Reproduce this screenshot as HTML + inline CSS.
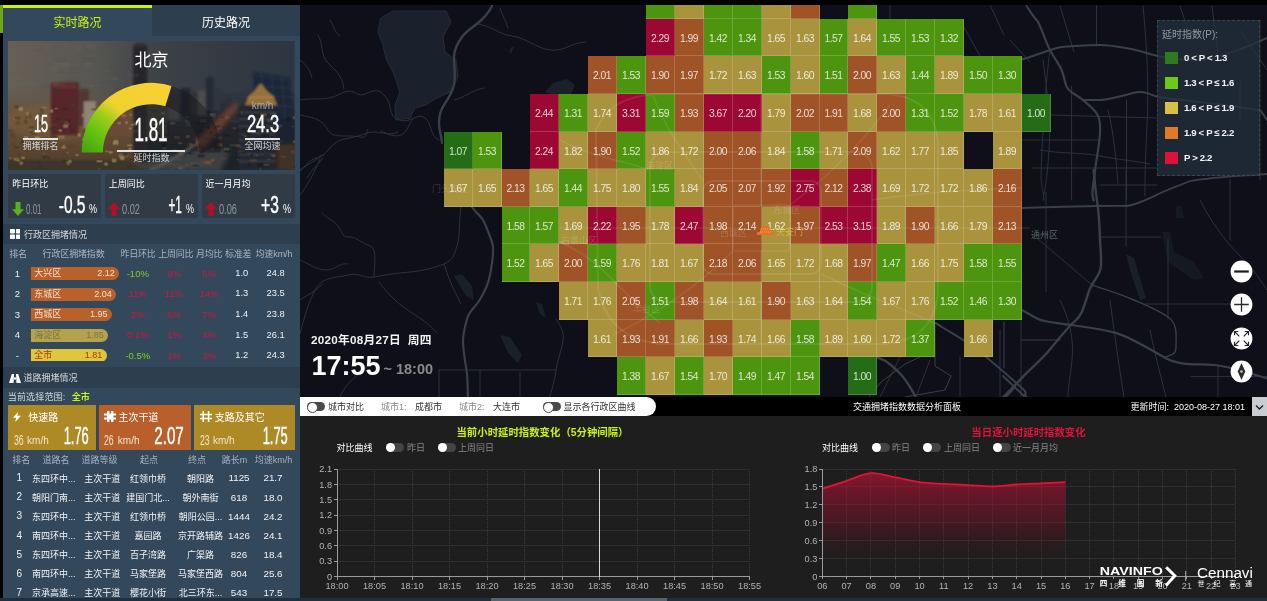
<!DOCTYPE html>
<html lang="zh-CN">
<head>
<meta charset="utf-8">
<title>交通拥堵指数数据分析面板</title>
<style>
*{box-sizing:border-box;margin:0;padding:0}
html,body{width:1267px;height:601px;overflow:hidden;background:#000}
body{position:relative;font-family:"Liberation Sans","Noto Sans CJK SC",sans-serif;font-size:10px;color:#fff}
.a{position:absolute}
.t{position:absolute;white-space:nowrap;line-height:1}
.c{transform:translateX(-50%)}
.nar{display:inline-block;transform-origin:0 50%}
#left{left:3px;top:5px;width:297px;height:593px;background:#34485c;overflow:hidden}
#map{left:300px;top:5px;width:967px;height:392px;background:#0e0f18;overflow:hidden}
#bot{left:300px;top:397px;width:967px;height:201px;background:#1e1e1e;overflow:hidden}
.cell{position:absolute;width:28.9px;height:37.6px;border-right:1px solid rgba(255,255,255,.18);border-bottom:1px solid rgba(255,255,255,.18);color:rgba(255,255,255,.8);font-size:10.3px;text-align:center;padding-top:1px;letter-spacing:-.45px}
.g0{background:rgba(38,112,22,.96)}
.g1{background:rgba(80,155,14,.96)}
.g2{background:rgba(176,154,62,.96)}
.g3{background:rgba(166,86,38,.96)}
.g4{background:rgba(162,8,52,.96)}
.tog{position:absolute;width:18px;height:9px;border-radius:5px;background:#4a4a4a}
.tog:after{content:"";position:absolute;left:0;top:0;width:9px;height:9px;border-radius:50%;background:#fff}
.tb:after{border:1px solid #4a4a4a}
.row{position:absolute;left:0;width:297px;height:20px;font-size:10px}
</style>
</head>
<body>
<div class="a" style="left:0;top:5px;width:3px;height:28px;background:#6ea713"></div>
<div id="left" class="a">
<div class="a" style="left:0.0px;top:0.0px;width:149.0px;height:3.0px;background:#c6f312;"></div>
<div class="a" style="left:149.0px;top:0.0px;width:148.0px;height:30.5px;background:#2d3e4f;"></div>
<div class="t c" style="left:74.5px;top:11.5px;font-size:12px;color:#c6f312;">实时路况</div>
<div class="t c" style="left:223.0px;top:11.5px;font-size:12px;color:#fff;">历史路况</div>
<svg class="a" style="left:5.3px;top:35.7px" width="286.5" height="129.8" viewBox="8.3 40.7 286.5 129.8">
<defs>
<linearGradient id="sky" x1="0" y1="0" x2="1" y2="0"><stop offset="0" stop-color="#665f56"/><stop offset=".3" stop-color="#575652"/><stop offset=".5" stop-color="#3f4347"/><stop offset=".75" stop-color="#333a43"/><stop offset="1" stop-color="#2c3641"/></linearGradient>
<linearGradient id="gl" x1="0" y1="0" x2="0" y2="1"><stop offset="0" stop-color="#665036" stop-opacity="0"/><stop offset=".3" stop-color="#695034" stop-opacity=".9"/><stop offset=".75" stop-color="#57432f"/><stop offset="1" stop-color="#383029"/></linearGradient>
<linearGradient id="gr" x1="0" y1="0" x2="0" y2="1"><stop offset="0" stop-color="#23272d" stop-opacity="0"/><stop offset=".3" stop-color="#22262b" stop-opacity=".95"/><stop offset="1" stop-color="#1c1f23"/></linearGradient>
<linearGradient id="gauge" x1="0" y1="1" x2="1" y2="0"><stop offset="0" stop-color="#459f10"/><stop offset=".2" stop-color="#60c010"/><stop offset=".38" stop-color="#9ccc18"/><stop offset=".52" stop-color="#efd22e"/><stop offset="1" stop-color="#fbcf36"/></linearGradient>
<filter id="bl" x="-5%" y="-5%" width="110%" height="110%"><feGaussianBlur stdDeviation=".8"/></filter>
<filter id="bl3" x="-2%" y="-2%" width="104%" height="104%"><feGaussianBlur stdDeviation=".55"/></filter>
<filter id="bl2" x="-10%" y="-10%" width="120%" height="120%"><feGaussianBlur stdDeviation="2.5"/></filter>
<clipPath id="pc"><rect x="8.3" y="40.7" width="286.5" height="129.8"/></clipPath>
</defs>
<g clip-path="url(#pc)">
<rect x="8" y="40" width="288" height="131" fill="url(#sky)"/>
<g filter="url(#bl2)">
<rect x="0" y="88" width="150" height="90" fill="url(#gl)"/>
<rect x="140" y="92" width="160" height="84" fill="url(#gr)"/>
<ellipse cx="55" cy="122" rx="50" ry="18" fill="#86663c" opacity=".35"/>
<path d="M110 172c30-10 60-18 100-22l20 0-10 22z" fill="#4a4b4c" opacity=".75"/>
<path d="M194 143c14-13 26-26 42-40l4 2c-12 15-24 28-36 42z" fill="#7a4430" opacity=".85"/>
<rect x="277" y="125" width="20" height="46" fill="#4a3528" opacity=".8"/>
</g>
<g filter="url(#bl)">
<rect x="51" y="82" width="28" height="53" fill="#55272a"/>
<rect x="53" y="84" width="24" height="4" fill="#63302f"/>
<rect x="79" y="89" width="10" height="37" fill="#523430"/>
<rect x="84" y="101" width="12" height="27" fill="#8e8576"/>
<rect x="133.5" y="45" width="14.2" height="110" fill="#25282c"/>
<rect x="135.5" y="43" width="10" height="4" fill="#2b2e32"/>
<rect x="110" y="112" width="22" height="24" fill="#6a4a38"/>
<rect x="147" y="100" width="20" height="40" fill="#33302f"/>
<rect x="168" y="98" width="12" height="22" fill="#3a3a3c"/>
<rect x="181.5" y="87.5" width="9" height="25" fill="#24282e"/>
<rect x="190.5" y="92" width="7" height="22" fill="#2e3238"/>
<rect x="198" y="90" width="10" height="25" fill="#4a4c4e"/>
<rect x="206" y="77" width="8" height="36" fill="#262c36"/>
<rect x="214" y="87.5" width="7" height="23" fill="#2f3640"/>
<rect x="226" y="95" width="4" height="10" fill="#2a3038"/>
<path d="M253.3 71.7l37 5.6 3.4 46-38 3z" fill="#1d2838"/>
<path d="M255 75l34 5M254 85l37 3M254 95l38 2M255 105l38 1M262 73l4 50M272 74l4 50M282 76l4 48" stroke="#2a3a52" stroke-width=".8" fill="none"/>
<path d="M245.4 105l3-9 6-5 6.6-8 6.6 8 6 5 4 9z" fill="#96703a"/>
<path d="M249 97h25" stroke="#b88c48" stroke-width="1"/>
<rect x="238.7" y="105" width="37" height="66" rx="3" fill="#24282e"/>
<path d="M239 112h37M239 119h37M239 126h37M239 133h37M239 140h37M239 147h37M239 154h37M239 161h37" stroke="#454b53" stroke-width="1.1"/>
<rect x="276" y="118" width="20" height="26" fill="#1a2230"/>
<path d="M150 170c20-8 34-16 50-30" stroke="#55585b" stroke-width="2.5" fill="none"/>
<path d="M170 172c16-8 30-10 44-8" stroke="#45484b" stroke-width="2.5" fill="none"/>
<path d="M8 160h120l20 11H8z" fill="#3a342c"/>
</g>
<g opacity=".55" filter="url(#bl3)"><rect x="49.1" y="113.7" width="4.4" height="1.2" fill="#4a3828"/><rect x="54.4" y="107.7" width="3.8" height="1.1" fill="#b89a6a"/><rect x="61.1" y="119.4" width="4.0" height="1.2" fill="#4a3828"/><rect x="128.3" y="144.4" width="4.1" height="1.2" fill="#b89a6a"/><rect x="14.3" y="118.1" width="4.0" height="1.4" fill="#b89a6a"/><rect x="26.3" y="111.5" width="2.9" height="3.4" fill="#9a8460"/><rect x="21.1" y="140.6" width="2.3" height="1.3" fill="#4a3828"/><rect x="79.7" y="143.6" width="3.7" height="2.6" fill="#6e5236"/><rect x="67.1" y="163.1" width="3.1" height="1.7" fill="#9a8460"/><rect x="96.8" y="119.6" width="4.1" height="2.6" fill="#6e5236"/><rect x="100.6" y="122.4" width="5.9" height="1.4" fill="#b89a6a"/><rect x="29.0" y="125.9" width="5.7" height="2.3" fill="#4a3828"/><rect x="105.1" y="140.7" width="5.4" height="1.9" fill="#6e5236"/><rect x="83.5" y="141.1" width="3.6" height="3.5" fill="#2e241c"/><rect x="68.2" y="146.5" width="1.8" height="3.1" fill="#51402e"/><rect x="44.1" y="128.7" width="4.5" height="1.1" fill="#51402e"/><rect x="53.1" y="143.1" width="3.7" height="1.7" fill="#2e241c"/><rect x="24.4" y="119.8" width="3.3" height="3.6" fill="#4a3828"/><rect x="29.1" y="129.7" width="2.8" height="1.4" fill="#b89a6a"/><rect x="117.7" y="121.8" width="3.4" height="2.1" fill="#b89a6a"/><rect x="129.6" y="113.7" width="2.3" height="1.7" fill="#c0a878"/><rect x="9.5" y="157.2" width="2.3" height="1.8" fill="#9a8460"/><rect x="61.2" y="127.6" width="4.0" height="3.9" fill="#3a2c22"/><rect x="66.0" y="159.7" width="5.8" height="3.0" fill="#b89a6a"/><rect x="58.6" y="129.2" width="3.7" height="2.2" fill="#c0a878"/><rect x="16.6" y="117.4" width="2.2" height="2.0" fill="#3a2c22"/><rect x="21.0" y="140.3" width="3.9" height="3.8" fill="#3a2c22"/><rect x="16.9" y="117.3" width="3.2" height="2.9" fill="#6e5236"/><rect x="84.5" y="134.3" width="2.0" height="2.5" fill="#51402e"/><rect x="69.0" y="124.0" width="2.1" height="3.2" fill="#2e241c"/><rect x="68.8" y="148.3" width="3.8" height="1.6" fill="#6e5236"/><rect x="26.6" y="138.8" width="1.6" height="2.6" fill="#4a3828"/><rect x="96.4" y="120.7" width="3.2" height="1.5" fill="#c0a878"/><rect x="75.6" y="153.9" width="3.0" height="1.7" fill="#c0a878"/><rect x="110.4" y="156.4" width="4.8" height="1.7" fill="#51402e"/><rect x="53.2" y="105.9" width="1.6" height="1.8" fill="#2e241c"/><rect x="32.6" y="142.7" width="3.0" height="3.4" fill="#6e5236"/><rect x="129.3" y="127.3" width="2.5" height="1.7" fill="#c0a878"/><rect x="50.9" y="134.9" width="5.9" height="2.8" fill="#3a2c22"/><rect x="68.9" y="145.8" width="5.1" height="1.3" fill="#4a3828"/><rect x="123.5" y="154.1" width="4.9" height="2.4" fill="#9a8460"/><rect x="63.1" y="144.7" width="1.9" height="3.8" fill="#b89a6a"/><rect x="66.8" y="151.6" width="1.9" height="1.5" fill="#9a8460"/><rect x="11.5" y="141.8" width="3.6" height="3.0" fill="#51402e"/><rect x="91.5" y="126.4" width="4.0" height="1.4" fill="#3a2c22"/><rect x="109.5" y="150.5" width="2.0" height="3.2" fill="#9a8460"/><rect x="63.1" y="159.8" width="5.2" height="1.6" fill="#2e241c"/><rect x="35.0" y="136.1" width="4.9" height="2.0" fill="#b89a6a"/><rect x="113.9" y="107.9" width="4.8" height="3.7" fill="#b89a6a"/><rect x="113.0" y="160.2" width="2.1" height="1.5" fill="#3a2c22"/><rect x="118.8" y="153.7" width="4.2" height="3.3" fill="#9a8460"/><rect x="29.9" y="134.3" width="4.8" height="2.7" fill="#6e5236"/><rect x="94.7" y="138.0" width="3.7" height="3.3" fill="#3a2c22"/><rect x="39.6" y="121.7" width="5.0" height="2.5" fill="#3a2c22"/><rect x="104.5" y="162.4" width="3.5" height="2.8" fill="#c0a878"/><rect x="96.0" y="133.0" width="3.9" height="2.4" fill="#c0a878"/><rect x="96.8" y="160.1" width="5.7" height="1.8" fill="#c0a878"/><rect x="114.7" y="112.8" width="2.0" height="2.3" fill="#4a3828"/><rect x="93.2" y="131.4" width="2.5" height="1.9" fill="#4a3828"/><rect x="121.9" y="113.9" width="4.7" height="3.0" fill="#9a8460"/><rect x="40.1" y="112.8" width="3.6" height="3.2" fill="#4a3828"/><rect x="58.6" y="135.2" width="6.0" height="3.5" fill="#9a8460"/><rect x="97.7" y="167.6" width="3.3" height="2.3" fill="#6e5236"/><rect x="48.5" y="150.2" width="1.6" height="2.7" fill="#51402e"/><rect x="97.3" y="128.6" width="3.8" height="1.9" fill="#4a3828"/><rect x="22.3" y="162.8" width="2.5" height="3.6" fill="#4a3828"/><rect x="41.7" y="106.5" width="5.0" height="1.8" fill="#9a8460"/><rect x="112.1" y="158.4" width="4.5" height="3.8" fill="#b89a6a"/><rect x="27.0" y="162.8" width="4.1" height="3.1" fill="#4a3828"/><rect x="43.4" y="155.2" width="2.3" height="3.7" fill="#2e241c"/><rect x="127.2" y="144.6" width="5.1" height="1.3" fill="#c0a878"/><rect x="16.5" y="159.2" width="3.5" height="2.0" fill="#b89a6a"/><rect x="125.7" y="121.1" width="2.1" height="2.6" fill="#c0a878"/><rect x="127.1" y="166.0" width="2.7" height="1.5" fill="#2e241c"/><rect x="87.8" y="138.0" width="2.4" height="2.3" fill="#9a8460"/><rect x="42.4" y="155.4" width="6.0" height="1.1" fill="#3a2c22"/><rect x="101.1" y="139.3" width="2.4" height="2.4" fill="#51402e"/><rect x="21.5" y="156.4" width="3.4" height="2.5" fill="#b89a6a"/><rect x="131.2" y="123.7" width="2.5" height="1.7" fill="#c0a878"/><rect x="113.7" y="149.2" width="4.4" height="2.2" fill="#6e5236"/><rect x="132.7" y="157.6" width="1.6" height="2.9" fill="#2e241c"/><rect x="62.7" y="107.5" width="4.5" height="2.1" fill="#2e241c"/><rect x="84.0" y="148.3" width="1.7" height="1.6" fill="#2e241c"/><rect x="64.6" y="120.8" width="5.8" height="3.9" fill="#6e5236"/><rect x="39.0" y="165.8" width="2.9" height="2.1" fill="#3a2c22"/><rect x="50.6" y="109.4" width="2.8" height="3.0" fill="#c0a878"/><rect x="72.1" y="104.3" width="2.7" height="1.3" fill="#b89a6a"/><rect x="82.5" y="129.2" width="2.8" height="2.9" fill="#4a3828"/><rect x="82.4" y="137.9" width="4.9" height="3.0" fill="#b89a6a"/><rect x="105.1" y="150.1" width="3.7" height="1.9" fill="#9a8460"/><rect x="13.6" y="157.5" width="5.5" height="2.9" fill="#9a8460"/><rect x="123.6" y="152.2" width="4.1" height="3.4" fill="#3a2c22"/><rect x="113.0" y="141.4" width="5.5" height="3.0" fill="#c0a878"/><rect x="18.8" y="106.7" width="4.4" height="3.9" fill="#b89a6a"/><rect x="114.1" y="139.7" width="4.3" height="2.9" fill="#c0a878"/><rect x="70.1" y="104.2" width="5.1" height="3.2" fill="#4a3828"/><rect x="91.7" y="108.2" width="4.8" height="1.8" fill="#4a3828"/><rect x="115.5" y="119.0" width="4.9" height="1.7" fill="#51402e"/><rect x="70.7" y="128.5" width="3.7" height="3.1" fill="#3a2c22"/><rect x="86.4" y="145.1" width="1.8" height="1.4" fill="#2e241c"/><rect x="90.7" y="148.3" width="4.3" height="1.4" fill="#51402e"/><rect x="15.7" y="121.2" width="4.5" height="3.1" fill="#51402e"/><rect x="44.9" y="137.1" width="3.6" height="2.4" fill="#4a3828"/><rect x="134.1" y="139.1" width="2.9" height="1.3" fill="#51402e"/><rect x="10.2" y="133.4" width="5.2" height="3.9" fill="#51402e"/><rect x="134.2" y="128.8" width="5.6" height="3.8" fill="#4a3828"/><rect x="81.8" y="113.1" width="3.9" height="3.9" fill="#9a8460"/><rect x="84.6" y="144.4" width="2.8" height="1.3" fill="#6e5236"/><rect x="37.4" y="161.5" width="3.7" height="1.1" fill="#3a2c22"/><rect x="128.6" y="147.6" width="3.3" height="3.2" fill="#b89a6a"/><rect x="51.7" y="124.2" width="5.3" height="1.0" fill="#6e5236"/><rect x="114.6" y="111.7" width="5.7" height="3.1" fill="#2e241c"/><rect x="40.2" y="108.2" width="3.3" height="3.6" fill="#4a3828"/><rect x="53.8" y="131.4" width="2.7" height="1.1" fill="#4a3828"/><rect x="14.6" y="146.4" width="4.4" height="1.4" fill="#2e241c"/><rect x="63.4" y="124.2" width="5.0" height="3.4" fill="#b89a6a"/><rect x="120.3" y="156.0" width="4.3" height="3.7" fill="#c0a878"/><rect x="99.4" y="107.2" width="4.8" height="2.4" fill="#9a8460"/><rect x="89.9" y="122.3" width="1.7" height="3.8" fill="#9a8460"/><rect x="29.7" y="130.6" width="2.8" height="1.8" fill="#2e241c"/><rect x="59.6" y="119.3" width="3.7" height="3.0" fill="#4a3828"/><rect x="29.3" y="114.3" width="2.4" height="3.7" fill="#51402e"/><rect x="77.9" y="133.0" width="3.0" height="3.3" fill="#b89a6a"/><rect x="25.7" y="116.3" width="1.9" height="2.0" fill="#4a3828"/><rect x="48.5" y="127.6" width="5.1" height="1.6" fill="#3a2c22"/><rect x="103.2" y="130.4" width="3.4" height="2.6" fill="#b89a6a"/><rect x="42.3" y="152.1" width="3.7" height="2.7" fill="#6e5236"/><rect x="24.0" y="136.2" width="4.3" height="3.6" fill="#c0a878"/><rect x="19.8" y="161.4" width="3.2" height="2.9" fill="#b89a6a"/><rect x="129.2" y="158.3" width="5.4" height="1.1" fill="#3a2c22"/><rect x="62.0" y="152.9" width="5.1" height="3.9" fill="#51402e"/><rect x="8.0" y="129.1" width="5.7" height="3.5" fill="#51402e"/><rect x="131.5" y="119.9" width="2.0" height="1.5" fill="#4a3828"/><rect x="127.6" y="150.2" width="4.4" height="3.3" fill="#51402e"/><rect x="18.8" y="153.7" width="1.5" height="1.4" fill="#3a2c22"/><rect x="90.0" y="123.4" width="2.1" height="1.8" fill="#b89a6a"/><rect x="96.7" y="111.2" width="1.8" height="2.6" fill="#c0a878"/><rect x="57.3" y="118.3" width="4.2" height="1.0" fill="#2e241c"/><rect x="134.5" y="121.8" width="2.9" height="3.5" fill="#c0a878"/><rect x="68.4" y="119.0" width="2.6" height="3.9" fill="#2e241c"/><rect x="15.0" y="116.4" width="5.5" height="2.9" fill="#4a3828"/><rect x="40.7" y="146.7" width="5.7" height="1.7" fill="#3a2c22"/><rect x="96.4" y="150.0" width="3.1" height="2.2" fill="#3a2c22"/><rect x="109.2" y="151.3" width="3.8" height="1.6" fill="#c0a878"/><rect x="47.6" y="156.5" width="2.5" height="1.7" fill="#2e241c"/><rect x="21.8" y="143.9" width="4.2" height="3.7" fill="#51402e"/><rect x="61.0" y="146.6" width="5.8" height="1.4" fill="#b89a6a"/><rect x="14.9" y="105.5" width="4.2" height="2.2" fill="#3a2c22"/><rect x="31.4" y="132.8" width="4.7" height="1.9" fill="#4a3828"/><rect x="134.7" y="163.6" width="3.0" height="1.6" fill="#51402e"/><rect x="154.6" y="149.2" width="3.6" height="1.9" fill="#101216"/><rect x="213.7" y="116.4" width="1.9" height="1.2" fill="#5a5c5e"/><rect x="287.6" y="117.3" width="6.8" height="1.5" fill="#101216"/><rect x="260.7" y="128.2" width="5.9" height="1.2" fill="#8a5a34"/><rect x="178.2" y="142.0" width="4.0" height="1.8" fill="#8a5a34"/><rect x="154.4" y="134.2" width="6.0" height="2.9" fill="#15181c"/><rect x="204.1" y="137.4" width="5.9" height="1.2" fill="#34383d"/><rect x="257.6" y="163.0" width="3.4" height="1.7" fill="#15181c"/><rect x="187.8" y="152.3" width="3.2" height="1.7" fill="#15181c"/><rect x="253.9" y="145.1" width="5.9" height="3.4" fill="#1b1f24"/><rect x="153.5" y="123.8" width="4.1" height="3.4" fill="#5a5c5e"/><rect x="263.7" y="163.9" width="6.0" height="1.3" fill="#8a5a34"/><rect x="176.3" y="157.4" width="5.6" height="3.1" fill="#4a4d50"/><rect x="237.4" y="129.3" width="3.3" height="1.9" fill="#1b1f24"/><rect x="223.7" y="133.1" width="2.4" height="2.0" fill="#15181c"/><rect x="219.4" y="142.1" width="2.4" height="2.1" fill="#1b1f24"/><rect x="292.2" y="125.6" width="2.0" height="1.2" fill="#8a5a34"/><rect x="292.3" y="167.4" width="2.5" height="1.3" fill="#8a5a34"/><rect x="239.3" y="149.8" width="5.6" height="3.1" fill="#1b1f24"/><rect x="262.3" y="127.3" width="3.0" height="1.7" fill="#6a4a30"/><rect x="256.3" y="121.8" width="2.9" height="1.6" fill="#4a4d50"/><rect x="190.5" y="163.5" width="2.5" height="1.2" fill="#6a4a30"/><rect x="292.9" y="139.9" width="2.8" height="3.0" fill="#8a5a34"/><rect x="292.7" y="116.0" width="4.1" height="3.0" fill="#8a5a34"/><rect x="281.7" y="112.4" width="3.1" height="1.3" fill="#34383d"/><rect x="236.5" y="158.8" width="2.6" height="1.2" fill="#4a4d50"/><rect x="214.7" y="125.3" width="5.8" height="3.4" fill="#1b1f24"/><rect x="241.8" y="151.9" width="3.4" height="1.1" fill="#101216"/><rect x="170.4" y="122.0" width="2.9" height="2.5" fill="#34383d"/><rect x="267.3" y="158.3" width="3.7" height="1.9" fill="#6a4a30"/><rect x="161.2" y="111.9" width="4.2" height="2.2" fill="#5a5c5e"/><rect x="164.6" y="133.3" width="4.5" height="2.6" fill="#1b1f24"/><rect x="244.0" y="133.5" width="3.0" height="3.5" fill="#6a4a30"/><rect x="210.2" y="113.0" width="5.6" height="3.2" fill="#5a5c5e"/><rect x="210.0" y="161.0" width="7.0" height="1.9" fill="#34383d"/><rect x="206.3" y="133.9" width="6.7" height="2.1" fill="#4a4d50"/><rect x="211.0" y="158.4" width="3.7" height="3.2" fill="#8a5a34"/><rect x="261.3" y="117.7" width="1.8" height="1.4" fill="#5a5c5e"/><rect x="162.8" y="146.7" width="3.5" height="2.3" fill="#4a4d50"/><rect x="200.1" y="119.5" width="2.4" height="1.2" fill="#5a5c5e"/><rect x="220.6" y="157.5" width="6.8" height="1.5" fill="#4a4d50"/><rect x="270.6" y="112.6" width="6.5" height="1.8" fill="#5a5c5e"/><rect x="162.4" y="152.0" width="5.3" height="3.2" fill="#34383d"/><rect x="239.4" y="146.3" width="2.6" height="2.2" fill="#34383d"/><rect x="156.0" y="165.4" width="2.4" height="1.9" fill="#4a4d50"/><rect x="185.6" y="152.8" width="6.4" height="1.1" fill="#15181c"/><rect x="246.2" y="129.1" width="3.6" height="2.1" fill="#6a4a30"/><rect x="243.5" y="128.2" width="2.9" height="2.0" fill="#101216"/><rect x="214.3" y="135.9" width="1.6" height="2.5" fill="#8a5a34"/><rect x="217.0" y="136.4" width="4.9" height="3.0" fill="#4a4d50"/><rect x="266.7" y="133.6" width="1.9" height="1.9" fill="#101216"/><rect x="163.2" y="136.1" width="4.3" height="1.1" fill="#4a4d50"/><rect x="161.8" y="153.3" width="5.8" height="2.3" fill="#15181c"/><rect x="258.3" y="162.8" width="5.1" height="3.0" fill="#15181c"/><rect x="273.4" y="168.8" width="5.5" height="3.0" fill="#34383d"/><rect x="169.0" y="162.3" width="3.1" height="3.0" fill="#4a4d50"/><rect x="248.8" y="152.5" width="2.7" height="3.1" fill="#6a4a30"/><rect x="172.9" y="162.9" width="3.0" height="3.0" fill="#4a4d50"/><rect x="186.6" y="166.9" width="4.1" height="2.5" fill="#34383d"/><rect x="195.9" y="112.2" width="2.5" height="1.4" fill="#6a4a30"/><rect x="247.9" y="162.8" width="2.4" height="3.0" fill="#1b1f24"/><rect x="260.6" y="112.9" width="6.2" height="3.4" fill="#8a5a34"/><rect x="229.9" y="144.2" width="6.4" height="1.3" fill="#5a5c5e"/><rect x="256.3" y="131.9" width="3.6" height="1.9" fill="#4a4d50"/><rect x="201.9" y="155.1" width="3.9" height="1.4" fill="#15181c"/><rect x="192.7" y="140.5" width="3.2" height="3.4" fill="#101216"/><rect x="255.6" y="154.1" width="2.7" height="1.7" fill="#5a5c5e"/><rect x="210.1" y="131.5" width="1.8" height="2.2" fill="#15181c"/><rect x="153.2" y="110.2" width="3.5" height="1.3" fill="#101216"/><rect x="226.9" y="134.4" width="3.2" height="1.3" fill="#101216"/><rect x="239.8" y="138.0" width="2.2" height="3.3" fill="#34383d"/><rect x="251.9" y="136.6" width="1.9" height="1.4" fill="#6a4a30"/><rect x="207.9" y="125.6" width="1.6" height="2.6" fill="#101216"/><rect x="235.6" y="144.1" width="4.8" height="2.3" fill="#8a5a34"/><rect x="185.8" y="163.3" width="1.7" height="2.3" fill="#5a5c5e"/><rect x="176.7" y="119.4" width="6.5" height="1.3" fill="#34383d"/><rect x="170.5" y="121.8" width="4.8" height="2.3" fill="#5a5c5e"/><rect x="267.1" y="120.3" width="3.2" height="1.8" fill="#15181c"/><rect x="293.1" y="152.7" width="4.1" height="2.3" fill="#5a5c5e"/><rect x="271.6" y="154.0" width="4.1" height="2.9" fill="#8a5a34"/><rect x="175.3" y="168.8" width="2.9" height="2.6" fill="#1b1f24"/><rect x="198.3" y="154.2" width="5.3" height="3.1" fill="#15181c"/><rect x="188.3" y="142.7" width="3.9" height="3.0" fill="#6a4a30"/><rect x="192.6" y="164.8" width="6.4" height="1.2" fill="#15181c"/><rect x="174.4" y="163.4" width="6.1" height="1.5" fill="#4a4d50"/><rect x="257.4" y="129.3" width="6.3" height="1.8" fill="#34383d"/><rect x="204.6" y="160.3" width="6.6" height="3.5" fill="#8a5a34"/><rect x="218.0" y="141.3" width="1.5" height="1.1" fill="#34383d"/><rect x="232.1" y="128.2" width="2.7" height="2.6" fill="#1b1f24"/><rect x="231.4" y="120.1" width="1.7" height="1.3" fill="#4a4d50"/><rect x="199.7" y="118.4" width="1.7" height="1.1" fill="#15181c"/><rect x="250.4" y="153.5" width="1.9" height="2.5" fill="#101216"/><rect x="178.7" y="166.3" width="4.4" height="2.7" fill="#5a5c5e"/><rect x="165.4" y="122.1" width="2.1" height="1.1" fill="#1b1f24"/><rect x="268.8" y="147.3" width="3.1" height="1.2" fill="#1b1f24"/><rect x="264.0" y="148.1" width="3.1" height="1.8" fill="#6a4a30"/><rect x="153.0" y="125.1" width="3.1" height="2.8" fill="#101216"/><rect x="281.1" y="155.4" width="4.8" height="2.2" fill="#6a4a30"/><rect x="239.0" y="111.8" width="3.8" height="2.1" fill="#1b1f24"/><rect x="199.9" y="151.6" width="4.5" height="1.5" fill="#1b1f24"/><rect x="232.7" y="126.9" width="3.9" height="2.3" fill="#6a4a30"/><rect x="259.8" y="167.7" width="1.5" height="2.2" fill="#8a5a34"/><rect x="250.1" y="158.7" width="6.8" height="2.5" fill="#6a4a30"/><rect x="233.2" y="119.4" width="6.0" height="3.3" fill="#34383d"/><rect x="221.8" y="116.5" width="5.0" height="1.2" fill="#1b1f24"/><rect x="240.4" y="131.0" width="3.7" height="2.0" fill="#1b1f24"/><rect x="210.8" y="148.1" width="3.5" height="1.8" fill="#5a5c5e"/><rect x="279.8" y="139.6" width="3.6" height="3.2" fill="#34383d"/><rect x="285.9" y="117.5" width="4.8" height="2.7" fill="#15181c"/><rect x="200.2" y="129.3" width="2.4" height="3.1" fill="#101216"/><rect x="174.4" y="135.9" width="5.8" height="2.4" fill="#4a4d50"/><rect x="198.1" y="147.9" width="5.3" height="2.3" fill="#6a4a30"/><rect x="193.4" y="151.5" width="6.1" height="1.4" fill="#4a4d50"/><rect x="290.4" y="152.7" width="4.8" height="1.9" fill="#34383d"/><rect x="197.2" y="121.2" width="6.9" height="2.8" fill="#1b1f24"/><rect x="173.7" y="148.8" width="2.6" height="1.4" fill="#4a4d50"/><rect x="264.5" y="153.3" width="3.9" height="1.5" fill="#1b1f24"/><rect x="190.4" y="162.2" width="4.1" height="1.0" fill="#5a5c5e"/><rect x="249.9" y="139.5" width="5.0" height="2.2" fill="#4a4d50"/><rect x="187.0" y="153.6" width="1.5" height="1.6" fill="#5a5c5e"/><rect x="251.0" y="144.7" width="5.1" height="3.1" fill="#34383d"/><rect x="247.9" y="147.9" width="4.0" height="1.8" fill="#1b1f24"/><rect x="278.8" y="124.3" width="3.7" height="2.8" fill="#4a4d50"/><rect x="186.0" y="135.0" width="4.0" height="2.6" fill="#5a5c5e"/><rect x="224.6" y="149.0" width="6.3" height="3.2" fill="#101216"/><rect x="262.1" y="132.9" width="4.2" height="3.4" fill="#15181c"/><rect x="186.2" y="122.9" width="5.4" height="3.4" fill="#34383d"/><rect x="224.8" y="116.0" width="4.7" height="2.4" fill="#8a5a34"/><rect x="223.8" y="147.7" width="6.1" height="2.3" fill="#5a5c5e"/><rect x="256.9" y="137.0" width="6.9" height="1.5" fill="#1b1f24"/><rect x="255.0" y="146.2" width="5.0" height="1.6" fill="#5a5c5e"/><rect x="207.6" y="110.8" width="3.8" height="2.1" fill="#101216"/><rect x="233.5" y="116.4" width="3.2" height="2.0" fill="#34383d"/><rect x="293.2" y="166.7" width="4.0" height="1.4" fill="#1b1f24"/><rect x="266.6" y="147.4" width="4.1" height="2.4" fill="#34383d"/><rect x="267.3" y="118.6" width="5.2" height="3.1" fill="#5a5c5e"/><rect x="217.4" y="127.4" width="4.5" height="1.3" fill="#8a5a34"/><rect x="201.1" y="160.2" width="3.0" height="1.9" fill="#6a4a30"/><rect x="291.5" y="150.1" width="4.1" height="3.0" fill="#6a4a30"/><rect x="201.5" y="148.6" width="3.3" height="2.2" fill="#1b1f24"/><rect x="244.9" y="131.4" width="6.6" height="3.1" fill="#15181c"/><rect x="162.3" y="143.3" width="3.3" height="3.4" fill="#101216"/><rect x="241.2" y="110.9" width="1.6" height="3.4" fill="#6a4a30"/><rect x="186.0" y="116.0" width="2.3" height="1.6" fill="#8a5a34"/><rect x="199.9" y="119.0" width="6.5" height="3.0" fill="#4a4d50"/><rect x="237.8" y="150.6" width="6.9" height="1.2" fill="#6a4a30"/><rect x="178.4" y="150.9" width="4.4" height="2.9" fill="#8a5a34"/><rect x="246.7" y="116.9" width="2.2" height="2.0" fill="#4a4d50"/><rect x="218.1" y="142.9" width="4.2" height="3.3" fill="#8a5a34"/><rect x="185.5" y="119.7" width="4.8" height="2.8" fill="#4a4d50"/><rect x="110.6" y="64.5" width="9.6" height="4.7" fill="#4e4c4a" opacity=".3"/><rect x="53.7" y="62.1" width="13.6" height="2.3" fill="#7a7268" opacity=".3"/><rect x="85.6" y="43.4" width="10.1" height="4.7" fill="#7a7268" opacity=".3"/><rect x="106.6" y="46.5" width="8.8" height="5.0" fill="#5a5650" opacity=".3"/><rect x="12.1" y="76.5" width="10.3" height="3.4" fill="#7a7268" opacity=".3"/><rect x="49.6" y="79.4" width="9.5" height="5.6" fill="#7a7268" opacity=".3"/><rect x="61.1" y="62.3" width="9.5" height="5.3" fill="#7a7268" opacity=".3"/><rect x="51.3" y="65.7" width="7.3" height="5.9" fill="#7a7268" opacity=".3"/><rect x="126.9" y="73.4" width="11.9" height="3.3" fill="#7a7268" opacity=".3"/><rect x="95.0" y="48.1" width="13.7" height="2.4" fill="#6e675d" opacity=".3"/><rect x="56.7" y="68.6" width="8.1" height="4.3" fill="#4e4c4a" opacity=".3"/><rect x="44.6" y="42.3" width="5.9" height="5.7" fill="#6e675d" opacity=".3"/><rect x="104.3" y="85.7" width="10.1" height="4.5" fill="#6e675d" opacity=".3"/><rect x="33.9" y="74.0" width="8.6" height="5.1" fill="#6e675d" opacity=".3"/><rect x="89.0" y="83.7" width="8.2" height="2.4" fill="#6e675d" opacity=".3"/><rect x="53.0" y="81.5" width="11.9" height="4.2" fill="#7a7268" opacity=".3"/><rect x="113.2" y="50.9" width="4.3" height="2.1" fill="#6e675d" opacity=".3"/><rect x="68.7" y="67.1" width="12.2" height="5.1" fill="#4e4c4a" opacity=".3"/><rect x="78.2" y="86.1" width="8.5" height="2.1" fill="#4e4c4a" opacity=".3"/><rect x="80.5" y="89.7" width="10.6" height="2.6" fill="#4e4c4a" opacity=".3"/><rect x="75.0" y="46.0" width="8.7" height="5.6" fill="#6e675d" opacity=".3"/><rect x="60.1" y="42.4" width="10.7" height="5.9" fill="#6e675d" opacity=".3"/><rect x="34.6" y="47.8" width="8.7" height="3.1" fill="#5a5650" opacity=".3"/><rect x="63.0" y="77.7" width="13.2" height="3.5" fill="#5a5650" opacity=".3"/><rect x="97.0" y="46.0" width="10.3" height="4.8" fill="#4e4c4a" opacity=".3"/><rect x="89.7" y="84.7" width="13.1" height="2.2" fill="#6e675d" opacity=".3"/><rect x="9.4" y="42.7" width="10.5" height="5.3" fill="#6e675d" opacity=".3"/><rect x="55.5" y="57.0" width="10.0" height="5.8" fill="#4e4c4a" opacity=".3"/><rect x="82.3" y="57.2" width="13.5" height="4.9" fill="#4e4c4a" opacity=".3"/><rect x="90.6" y="49.0" width="12.0" height="3.5" fill="#5a5650" opacity=".3"/><rect x="84.8" y="62.1" width="7.9" height="5.1" fill="#7a7268" opacity=".3"/><rect x="103.7" y="69.2" width="6.9" height="2.2" fill="#7a7268" opacity=".3"/><rect x="114.1" y="76.8" width="4.2" height="2.6" fill="#7a7268" opacity=".3"/><rect x="79.3" y="88.9" width="6.5" height="3.5" fill="#4e4c4a" opacity=".3"/><rect x="81.4" y="85.0" width="12.1" height="3.1" fill="#6e675d" opacity=".3"/><rect x="47.2" y="54.9" width="5.6" height="5.7" fill="#6e675d" opacity=".3"/><rect x="43.2" y="48.8" width="12.9" height="6.0" fill="#5a5650" opacity=".3"/><rect x="41.4" y="82.9" width="12.1" height="4.7" fill="#4e4c4a" opacity=".3"/><rect x="50.3" y="46.1" width="9.5" height="5.2" fill="#5a5650" opacity=".3"/><rect x="104.1" y="76.7" width="13.8" height="3.2" fill="#6e675d" opacity=".3"/></g>
<path d="M171.8 85.6A69.6 69.6 0 0 1 221.1 152.2L199.8 152.2A48.3 48.3 0 0 0 165.6 106.0z" fill="#121417" opacity=".42"/>
<path d="M81.9 152.2A69.6 69.6 0 0 1 171.8 85.6L165.6 106.0A48.3 48.3 0 0 0 103.2 152.2z" fill="url(#gauge)"/>
</g></svg>
<div class="t c" style="left:148.5px;top:47.0px;font-size:17px;color:#fff;">北京</div>
<div class="t" style="left:37.6px;top:107.8px;font-size:23px;color:#fff;-webkit-text-stroke:.45px #fff;font-weight:normal;transform:translateX(-50%) scaleX(0.55);transform-origin:50% 50%">15</div>
<div class="a" style="left:19.8px;top:133.3px;width:35.2px;height:1.5px;background:#e4e4e4;"></div>
<div class="t c" style="left:37.4px;top:136.8px;font-size:9px;color:#cfd3d6;">拥堵排名</div>
<div class="t" style="left:148.3px;top:107.3px;font-size:34px;color:#fff;-webkit-text-stroke:.45px #fff;font-weight:normal;transform:translateX(-50%) scaleX(0.5);transform-origin:50% 50%">1.81</div>
<div class="a" style="left:114.0px;top:145.2px;width:68.0px;height:1.5px;background:#e4e4e4;"></div>
<div class="t c" style="left:148.6px;top:148.9px;font-size:9px;color:#cfd3d6;">延时指数</div>
<div class="t c" style="left:259.5px;top:95.5px;font-size:10px;color:#a9acb0;">km/h</div>
<div class="t" style="left:259.5px;top:107.8px;font-size:23px;color:#fff;-webkit-text-stroke:.45px #fff;font-weight:normal;transform:translateX(-50%) scaleX(0.72);transform-origin:50% 50%">24.3</div>
<div class="a" style="left:241.8px;top:133.4px;width:35.5px;height:1.5px;background:#e4e4e4;"></div>
<div class="t c" style="left:259.5px;top:137.0px;font-size:9px;color:#cfd3d6;">全网均速</div>
<div class="a" style="left:5.3px;top:169.0px;width:93.0px;height:43.6px;background:#313b45;"></div>
<div class="t" style="left:9.2px;top:174.5px;font-size:9px;color:#fff;">昨日环比</div>
<svg class="a" style="left:9.1px;top:197px" width="12" height="14" viewBox="0 0 12 14"><path d="M3.5 0h5v7.3h3.5L6 14 0 7.3h3.5z" fill="#5bb01d"/></svg>
<div class="t" style="left:22.5px;top:196.6px;font-size:14px;color:#8d97a0;font-weight:normal;transform:scaleX(0.57);transform-origin:0 50%">0.01</div>
<div class="t" style="right:202.5px;top:197.6px;font-size:12.5px;color:#fff;transform:scaleX(.72);transform-origin:100% 50%">%</div>
<div class="t" style="right:214.9px;top:188.6px;font-size:23.5px;color:#fff;-webkit-text-stroke:.45px #fff;font-weight:normal;transform:scaleX(0.66);transform-origin:100% 50%">-0.5</div>
<div class="a" style="left:101.9px;top:169.0px;width:93.5px;height:43.6px;background:#313b45;"></div>
<div class="t" style="left:105.8px;top:174.5px;font-size:9px;color:#fff;">上周同比</div>
<svg class="a" style="left:105.2px;top:197px" width="12" height="14" viewBox="0 0 12 14"><path d="M3.5 14h5V6.7h3.5L6 0 0 6.7h3.5z" fill="#b30f2c"/></svg>
<div class="t" style="left:119.1px;top:196.6px;font-size:14px;color:#8d97a0;font-weight:normal;transform:scaleX(0.66);transform-origin:0 50%">0.02</div>
<div class="t" style="right:105.4px;top:197.6px;font-size:12.5px;color:#fff;transform:scaleX(.72);transform-origin:100% 50%">%</div>
<div class="t" style="right:117.8px;top:188.6px;font-size:23.5px;color:#fff;-webkit-text-stroke:.45px #fff;font-weight:normal;transform:scaleX(0.5);transform-origin:100% 50%">+1</div>
<div class="a" style="left:198.7px;top:169.0px;width:93.1px;height:43.6px;background:#313b45;"></div>
<div class="t" style="left:202.6px;top:174.5px;font-size:9px;color:#fff;">近一月月均</div>
<svg class="a" style="left:202.0px;top:197px" width="12" height="14" viewBox="0 0 12 14"><path d="M3.5 14h5V6.7h3.5L6 0 0 6.7h3.5z" fill="#b30f2c"/></svg>
<div class="t" style="left:215.9px;top:196.6px;font-size:14px;color:#8d97a0;font-weight:normal;transform:scaleX(0.66);transform-origin:0 50%">0.06</div>
<div class="t" style="right:9.0px;top:197.6px;font-size:12.5px;color:#fff;transform:scaleX(.72);transform-origin:100% 50%">%</div>
<div class="t" style="right:21.4px;top:188.6px;font-size:23.5px;color:#fff;-webkit-text-stroke:.45px #fff;font-weight:normal;transform:scaleX(0.66);transform-origin:100% 50%">+3</div>
<div class="a" style="left:0.0px;top:218.9px;width:297.0px;height:19.7px;background:#2d3e4e;"></div>
<svg class="a" style="left:6.5px;top:224.2px" width="10.9" height="9.9" viewBox="0 0 106 96"><rect x="0" y="0" width="48" height="43" rx="6" fill="#fff"/><rect x="58" y="0" width="48" height="43" rx="6" fill="#fff"/><rect x="0" y="53" width="48" height="43" rx="6" fill="#fff"/><rect x="58" y="53" width="48" height="43" rx="6" fill="#fff"/></svg>
<div class="t" style="left:21.0px;top:225.5px;font-size:9px;color:#d3d7db;">行政区拥堵情况</div>
<div class="t" style="left:6.3px;top:244.9px;font-size:9px;color:#a9b4be;letter-spacing:-.3px">排名</div>
<div class="t c" style="left:70.6px;top:244.9px;font-size:9px;color:#a9b4be;letter-spacing:-.15px">行政区拥堵指数</div>
<div class="t c" style="left:135.0px;top:244.9px;font-size:9px;color:#a9b4be;letter-spacing:-.2px">昨日环比</div>
<div class="t c" style="left:172.8px;top:244.9px;font-size:9px;color:#a9b4be;letter-spacing:-.2px">上周同比</div>
<div class="t c" style="left:206.2px;top:244.9px;font-size:9px;color:#a9b4be;letter-spacing:-.2px">月均比</div>
<div class="t c" style="left:235.2px;top:244.9px;font-size:9px;color:#a9b4be;letter-spacing:-.2px">标准差</div>
<div class="t c" style="left:270.9px;top:244.9px;font-size:9px;color:#a9b4be;letter-spacing:-.1px">均速km/h</div>
<div class="a" style="left:0;top:257px;width:297px;height:99px;overflow:hidden">
<div class="t c" style="left:14.3px;top:6.8px;font-size:9.5px;color:#eef1f3;">1</div>
<div class="a" style="left:27.9px;top:5.0px;width:88.2px;height:13px;background:#b9612a;border-radius:0 6.5px 6.5px 0"></div>
<div class="t" style="left:31.3px;top:7.0px;font-size:9px;color:#f3dfcb;">大兴区</div>
<div class="t" style="right:185.2px;top:7.0px;font-size:9px;color:#f3dfcb;">2.12</div>
<div class="t c" style="left:134.8px;top:6.8px;font-size:9.5px;color:#7fd11b;">-10%</div>
<div class="t c" style="left:171.0px;top:6.8px;font-size:9.5px;color:#cf1540;">9%</div>
<div class="t c" style="left:206.2px;top:6.8px;font-size:9.5px;color:#cf1540;">6%</div>
<div class="t c" style="left:238.8px;top:6.9px;font-size:9.3px;color:#eef1f3;">1.0</div>
<div class="t c" style="left:272.6px;top:6.9px;font-size:9.3px;color:#eef1f3;">24.8</div>
<div class="t c" style="left:14.3px;top:27.3px;font-size:9.5px;color:#eef1f3;">2</div>
<div class="a" style="left:27.9px;top:25.6px;width:85.1px;height:13px;background:#b9612a;border-radius:0 6.5px 6.5px 0"></div>
<div class="t" style="left:31.3px;top:27.6px;font-size:9px;color:#f3dfcb;">东城区</div>
<div class="t" style="right:188.3px;top:27.6px;font-size:9px;color:#f3dfcb;">2.04</div>
<div class="t c" style="left:134.8px;top:27.3px;font-size:9.5px;color:#cf1540;">11%</div>
<div class="t c" style="left:171.0px;top:27.3px;font-size:9.5px;color:#cf1540;">11%</div>
<div class="t c" style="left:206.2px;top:27.3px;font-size:9.5px;color:#cf1540;">14%</div>
<div class="t c" style="left:238.8px;top:27.4px;font-size:9.3px;color:#eef1f3;">1.3</div>
<div class="t c" style="left:272.6px;top:27.4px;font-size:9.3px;color:#eef1f3;">23.5</div>
<div class="t c" style="left:14.3px;top:47.9px;font-size:9.5px;color:#eef1f3;">3</div>
<div class="a" style="left:27.9px;top:46.1px;width:80.9px;height:13px;background:#b9612a;border-radius:0 6.5px 6.5px 0"></div>
<div class="t" style="left:31.3px;top:48.1px;font-size:9px;color:#f3dfcb;">西城区</div>
<div class="t" style="right:192.5px;top:48.1px;font-size:9px;color:#f3dfcb;">1.95</div>
<div class="t c" style="left:134.8px;top:47.9px;font-size:9.5px;color:#cf1540;">2%</div>
<div class="t c" style="left:171.0px;top:47.9px;font-size:9.5px;color:#cf1540;">6%</div>
<div class="t c" style="left:206.2px;top:47.9px;font-size:9.5px;color:#cf1540;">7%</div>
<div class="t c" style="left:238.8px;top:48.0px;font-size:9.3px;color:#eef1f3;">1.4</div>
<div class="t c" style="left:272.6px;top:48.0px;font-size:9.3px;color:#eef1f3;">23.8</div>
<div class="t c" style="left:14.3px;top:68.4px;font-size:9.5px;color:#eef1f3;">4</div>
<div class="a" style="left:27.9px;top:66.6px;width:77.1px;height:13px;background:#b4a24f;border-radius:0 6.5px 6.5px 0"></div>
<div class="t" style="left:31.3px;top:68.6px;font-size:9px;color:#7a7440;">海淀区</div>
<div class="t" style="right:196.3px;top:68.6px;font-size:9px;color:#7a7440;">1.85</div>
<div class="t c" style="left:134.8px;top:68.4px;font-size:9.5px;color:#cf1540;">0.1%</div>
<div class="t c" style="left:171.0px;top:68.4px;font-size:9.5px;color:#cf1540;">1%</div>
<div class="t c" style="left:206.2px;top:68.4px;font-size:9.5px;color:#cf1540;">4%</div>
<div class="t c" style="left:238.8px;top:68.5px;font-size:9.3px;color:#eef1f3;">1.5</div>
<div class="t c" style="left:272.6px;top:68.5px;font-size:9.3px;color:#eef1f3;">26.1</div>
<div class="t c" style="left:14.3px;top:88.9px;font-size:9.5px;color:#eef1f3;">-</div>
<div class="a" style="left:27.9px;top:87.2px;width:75.7px;height:13px;background:#e0c63a;border-radius:0 6.5px 6.5px 0"></div>
<div class="t" style="left:31.3px;top:89.2px;font-size:9px;color:#a53b1e;">全市</div>
<div class="t" style="right:197.7px;top:89.2px;font-size:9px;color:#a53b1e;">1.81</div>
<div class="t c" style="left:134.8px;top:88.9px;font-size:9.5px;color:#7fd11b;">-0.5%</div>
<div class="t c" style="left:171.0px;top:88.9px;font-size:9.5px;color:#cf1540;">1%</div>
<div class="t c" style="left:206.2px;top:88.9px;font-size:9.5px;color:#cf1540;">3%</div>
<div class="t c" style="left:238.8px;top:89.1px;font-size:9.3px;color:#eef1f3;">1.2</div>
<div class="t c" style="left:272.6px;top:89.1px;font-size:9.3px;color:#eef1f3;">24.3</div>
</div>
<div class="a" style="left:0.0px;top:361.8px;width:297.0px;height:21.2px;background:#2d3e4e;"></div>
<svg class="a" style="left:6px;top:368.5px" width="12" height="9" viewBox="0 0 120 90"><path d="M28 0h22l-4 90H0zM70 0h22l28 90H74z" fill="#fff"/><rect x="50" y="34" width="20" height="22" fill="#fff"/></svg>
<div class="t" style="left:20.6px;top:369.2px;font-size:9px;color:#d3d7db;">道路拥堵情况</div>
<div class="t" style="left:4.8px;top:388.0px;font-size:9px;color:#d5dade;letter-spacing:.15px">当前选择范围:</div>
<div class="t" style="left:68.8px;top:388.0px;font-size:9px;color:#c6f312;font-weight:bold">全市</div>
<div class="a" style="left:5.3px;top:400.2px;width:88.1px;height:44.8px;background:#ae8a26;"></div>
<svg class="a" style="left:10.3px;top:406.5px" width="8" height="10" viewBox="0 0 8 10"><path d="M5 0L0 5.8h3.2L2.2 10 8 3.8H4.4z" fill="#fff"/></svg>
<div class="t" style="left:25.3px;top:407.5px;font-size:10px;color:#fff;">快速路</div>
<div class="t" style="left:10.7px;top:427.7px;font-size:14px;color:#f1e4c8;font-weight:normal;transform:scaleX(0.62);transform-origin:0 50%">36</div>
<div class="t" style="left:24.1px;top:431.0px;font-size:10px;color:#f1e4c8;">km/h</div>
<div class="t" style="right:210.9px;top:420.3px;font-size:23px;color:#fff;-webkit-text-stroke:.45px #fff;font-weight:normal;transform:scaleX(0.56);transform-origin:100% 50%">1.76</div>
<div class="a" style="left:96.0px;top:400.2px;width:92.0px;height:44.8px;background:#b85f2c;"></div>
<svg class="a" style="left:101.0px;top:406px" width="12" height="11" viewBox="0 0 12 11"><path d="M3 0h2.4v2.4h1.6V0h2.4v2.4H12v2.2H9.4v1.8H12v2.2H9.4V11H7V8.6H5.4V11H3V8.6H0V6.4h3V4.6H0V2.4h3z" fill="#fff"/></svg>
<div class="t" style="left:115.5px;top:407.5px;font-size:10px;color:#fff;">主次干道</div>
<div class="t" style="left:101.4px;top:427.7px;font-size:14px;color:#f1e4c8;font-weight:normal;transform:scaleX(0.62);transform-origin:0 50%">26</div>
<div class="t" style="left:114.8px;top:431.0px;font-size:10px;color:#f1e4c8;">km/h</div>
<div class="t" style="right:116.3px;top:420.3px;font-size:23px;color:#fff;-webkit-text-stroke:.45px #fff;font-weight:normal;transform:scaleX(0.66);transform-origin:100% 50%">2.07</div>
<div class="a" style="left:191.2px;top:400.2px;width:100.6px;height:44.8px;background:#ae8a26;"></div>
<svg class="a" style="left:196.7px;top:406px" width="12" height="11" viewBox="0 0 12 11"><path d="M3.2 0v11M8.6 0v11M0 3.4h12M0 7.6h12" stroke="#fff" stroke-width="1.5" fill="none"/></svg>
<div class="t" style="left:211.7px;top:407.5px;font-size:10px;color:#fff;">支路及其它</div>
<div class="t" style="left:196.6px;top:427.7px;font-size:14px;color:#f1e4c8;font-weight:normal;transform:scaleX(0.62);transform-origin:0 50%">23</div>
<div class="t" style="left:210.0px;top:431.0px;font-size:10px;color:#f1e4c8;">km/h</div>
<div class="t" style="right:12.5px;top:420.3px;font-size:23px;color:#fff;-webkit-text-stroke:.45px #fff;font-weight:normal;transform:scaleX(0.56);transform-origin:100% 50%">1.75</div>
<div class="t c" style="left:18.3px;top:450.9px;font-size:9px;color:#a9b4be;">排名</div>
<div class="t c" style="left:53.0px;top:450.9px;font-size:9px;color:#a9b4be;">道路名</div>
<div class="t c" style="left:96.5px;top:450.9px;font-size:9px;color:#a9b4be;">道路等级</div>
<div class="t c" style="left:146.0px;top:450.9px;font-size:9px;color:#a9b4be;">起点</div>
<div class="t c" style="left:194.0px;top:450.9px;font-size:9px;color:#a9b4be;">终点</div>
<div class="t c" style="left:231.4px;top:450.9px;font-size:9px;color:#a9b4be;">路长m</div>
<div class="t c" style="left:270.5px;top:450.9px;font-size:9px;color:#a9b4be;">均速km/h</div>
<div class="t c" style="left:16.4px;top:468.3px;font-size:10px;color:#f1f3f5;">1</div>
<div class="t" style="left:29.0px;top:469.8px;font-size:9px;color:#f1f3f5;">东四环中...</div>
<div class="t c" style="left:99.3px;top:469.8px;font-size:9px;color:#f1f3f5;">主次干道</div>
<div class="t c" style="left:145.0px;top:469.8px;font-size:9px;color:#f1f3f5;">红领巾桥</div>
<div class="t c" style="left:197.5px;top:469.8px;font-size:9px;color:#f1f3f5;">朝阳路</div>
<div class="t c" style="left:236.0px;top:468.4px;font-size:9.8px;color:#f1f3f5;">1125</div>
<div class="t c" style="left:270.0px;top:468.4px;font-size:9.8px;color:#f1f3f5;">21.7</div>
<div class="t c" style="left:16.4px;top:487.4px;font-size:10px;color:#f1f3f5;">2</div>
<div class="t" style="left:29.0px;top:488.9px;font-size:9px;color:#f1f3f5;">朝阳门南...</div>
<div class="t c" style="left:99.3px;top:488.9px;font-size:9px;color:#f1f3f5;">主次干道</div>
<div class="t c" style="left:145.0px;top:488.9px;font-size:9px;color:#f1f3f5;">建国门北...</div>
<div class="t c" style="left:197.5px;top:488.9px;font-size:9px;color:#f1f3f5;">朝外南街</div>
<div class="t c" style="left:236.0px;top:487.5px;font-size:9.8px;color:#f1f3f5;">618</div>
<div class="t c" style="left:270.0px;top:487.5px;font-size:9.8px;color:#f1f3f5;">18.0</div>
<div class="t c" style="left:16.4px;top:506.4px;font-size:10px;color:#f1f3f5;">3</div>
<div class="t" style="left:29.0px;top:507.9px;font-size:9px;color:#f1f3f5;">东四环中...</div>
<div class="t c" style="left:99.3px;top:507.9px;font-size:9px;color:#f1f3f5;">主次干道</div>
<div class="t c" style="left:145.0px;top:507.9px;font-size:9px;color:#f1f3f5;">红领巾桥</div>
<div class="t c" style="left:197.5px;top:507.9px;font-size:9px;color:#f1f3f5;">朝阳公园...</div>
<div class="t c" style="left:236.0px;top:506.5px;font-size:9.8px;color:#f1f3f5;">1444</div>
<div class="t c" style="left:270.0px;top:506.5px;font-size:9.8px;color:#f1f3f5;">24.2</div>
<div class="t c" style="left:16.4px;top:525.5px;font-size:10px;color:#f1f3f5;">4</div>
<div class="t" style="left:29.0px;top:527.0px;font-size:9px;color:#f1f3f5;">南四环中...</div>
<div class="t c" style="left:99.3px;top:527.0px;font-size:9px;color:#f1f3f5;">主次干道</div>
<div class="t c" style="left:145.0px;top:527.0px;font-size:9px;color:#f1f3f5;">嘉园路</div>
<div class="t c" style="left:197.5px;top:527.0px;font-size:9px;color:#f1f3f5;">京开路辅路</div>
<div class="t c" style="left:236.0px;top:525.6px;font-size:9.8px;color:#f1f3f5;">1426</div>
<div class="t c" style="left:270.0px;top:525.6px;font-size:9.8px;color:#f1f3f5;">24.1</div>
<div class="t c" style="left:16.4px;top:544.5px;font-size:10px;color:#f1f3f5;">5</div>
<div class="t" style="left:29.0px;top:546.0px;font-size:9px;color:#f1f3f5;">东四环中...</div>
<div class="t c" style="left:99.3px;top:546.0px;font-size:9px;color:#f1f3f5;">主次干道</div>
<div class="t c" style="left:145.0px;top:546.0px;font-size:9px;color:#f1f3f5;">百子湾路</div>
<div class="t c" style="left:197.5px;top:546.0px;font-size:9px;color:#f1f3f5;">广渠路</div>
<div class="t c" style="left:236.0px;top:544.6px;font-size:9.8px;color:#f1f3f5;">826</div>
<div class="t c" style="left:270.0px;top:544.6px;font-size:9.8px;color:#f1f3f5;">18.4</div>
<div class="t c" style="left:16.4px;top:563.6px;font-size:10px;color:#f1f3f5;">6</div>
<div class="t" style="left:29.0px;top:565.1px;font-size:9px;color:#f1f3f5;">南四环中...</div>
<div class="t c" style="left:99.3px;top:565.1px;font-size:9px;color:#f1f3f5;">主次干道</div>
<div class="t c" style="left:145.0px;top:565.1px;font-size:9px;color:#f1f3f5;">马家堡路</div>
<div class="t c" style="left:197.5px;top:565.1px;font-size:9px;color:#f1f3f5;">马家堡西路</div>
<div class="t c" style="left:236.0px;top:563.7px;font-size:9.8px;color:#f1f3f5;">804</div>
<div class="t c" style="left:270.0px;top:563.7px;font-size:9.8px;color:#f1f3f5;">25.6</div>
<div class="t c" style="left:16.4px;top:582.6px;font-size:10px;color:#f1f3f5;">7</div>
<div class="t" style="left:29.0px;top:584.1px;font-size:9px;color:#f1f3f5;">京承高速...</div>
<div class="t c" style="left:99.3px;top:584.1px;font-size:9px;color:#f1f3f5;">主次干道</div>
<div class="t c" style="left:145.0px;top:584.1px;font-size:9px;color:#f1f3f5;">樱花小街</div>
<div class="t c" style="left:197.5px;top:584.1px;font-size:9px;color:#f1f3f5;">北三环东...</div>
<div class="t c" style="left:236.0px;top:582.7px;font-size:9.8px;color:#f1f3f5;">543</div>
<div class="t c" style="left:270.0px;top:582.7px;font-size:9.8px;color:#f1f3f5;">17.5</div>
</div>
<div id="map" class="a">
<svg class="a" style="left:0;top:0" width="967" height="392" viewBox="300 5 967 392">
<g fill="none" stroke-linecap="round" stroke-linejoin="round">
<path d="M381 18l12-7h53l5 11-8 15 2 15 11 8 2 17-8 15-17 8-7 5-11 3-5 10-14 2-1-15 5-13-7-20-7-13-3-14-5-13z" fill="#1b212c" stroke="none"/>
<path d="M545 92l8-9 14-4 8 6-4 9-12 4z" fill="#1b212b" stroke="none"/>
<path d="M509 52l3-6 2 1-3 7zM454 276l8-2 10 12 2 14-8-4zM500 335l10 2 12 18-4 8-10-10zM536 302l6 2 4 14-6-4zM1126 254l8 4 12 40-6 2-10-30z" fill="#1a2029" stroke="none"/>
<path d="M1162 232l8 0 4 20 20 10 10 16-10 2-26-18zM1176 206l6 0 2 12-8 0z" fill="#151a22" stroke="none"/>
<g stroke="#2c323a" stroke-width="1">
<path d="M300 100c15-3 25 2 40-6s15 4 25 0 12-6 20 2 2 20 14 24 18-8 26-2 4 18 14 22"/><path d="M318 35c6 10 2 20 10 28s14 12 16 26"/><path d="M300 115c8 2 14 2 20 6s8 12 14 14 18 0 26 2 6-6 8-8M381 131c8 4 14 6 20 4s8-12 12-16M300 171c6-4 8-10 14-12s6-4 10-4M307 178c4-8 10-12 16-20M300 60c6 4 10 10 12 18M330 20c4 6 4 12 10 16M300 260c10 4 16 10 26 10s14-8 22-6M300 300c8-6 16-8 22-16"/><path d="M381 18l12-7h53l5 11-8 15 2 15 11 8 2 17-8 15-17 8-7 5-11 3-5 10-14 2-1-15 5-13-7-20-7-13-3-14-5-13z" stroke="#262d38"/><path d="M300 170c10-8 20-10 30-22s20-8 34-14 24 4 34-2"/><path d="M300 195c8-10 14-22 20-36"/><path d="M322 213c8 8 14 8 18 16s4 8 10 8 12 6 20 9 4 20 4 30"/><path d="M379 282c6 8 10 12 16 18s16 12 26 19 12 10 16 14"/><path d="M300 334c4-16 8-30 15-44s22-12 33-15 16 4 26 2 24-4 36-5 24-4 34-8 10-10 13-18 2-26 4-39"/><path d="M444 264c4 14 10 26 17 40"/><path d="M340 397c4-10 10-16 18-22s12-14 20-16"/><path d="M439 370h117M439 370v27M480 370v27M520 372v25"/><path d="M556 319c6 8 8 14 7 22s-6 20-7 29-4 20-7 29"/><path d="M500 8c2 8 6 12 8 20"/><path d="M478 24c14 2 20 10 34 12s24 12 38 14 22-8 36-8"/><path d="M454 100c10-2 18-10 30-12"/><path d="M1096.5 6v40M1060 6l14 46M1126 170v76M1021 170v227M1046 192v100M1099 237h62M1145 304h85M1168 239v80M1191 376.6h76M1218 365v34"/><path d="M1143 6c4 40 6 80 4 120s-2 50-2 70M1050 115l106 3M1180 6l10 30M1212 6l6 50M1240 30l27 40M1240 80v40"/><path d="M1043 60c4 30 8 60 6 90s-4 40-6 50M1108 110c6 24 8 50 10 74M1040 150c20 4 40 2 60 6s30 4 50 8"/><path d="M1038 239l54 46M1060 300c10 20 14 40 12 60s-4 26-4 37M1110 300c4 30 8 60 14 97M1150 330c4 20 10 44 16 67"/><path d="M1200 200c10 20 24 40 40 56s20 24 27 34M1230 180v60"/><path d="M1071.6 86v114M1126.5 100v100M1000 140h100M1033 168h124M1100 185h57M1260 20v160M1050 50c-4 30-6 60-8 100s0 30 2 50"/><path d="M860 5l6 14M890 5v14M960 20l20 36M990 5l14 30M1010 40l20 22M880 397l20-40M930 360l-14 37M960 397v-40M1000 330v67"/></g>
<g stroke="#3a4047">
<path d="M492 6c-4 8-8 12-14 17s-12 8-16 14-8 12-8 20 2 20 0 28-6 14-10 20-5 10-5 18 2 10 3 20" stroke-width="2.4"/><path d="M472 207c4 6 8 8 11 13s6 14 9 22 0 22-2 33-6 18-11 26-10 10-12 18-4 14-4 22 2 20 3.5 29 1 20 1.5 29" stroke-width="2.2"/><path d="M1026.6 6c4 6 6 10 10 14s8 20 13.4 30 6 10 10 16.6 4 14 6.6 20 10 8 16.4 13.5 10 8 13.5 13 4 12 3.5 20-2 18-3.5 27-2 16-3.5 26.4 0 10 .7 14" stroke-width="2.2"/><path d="M1000 64c12-2 22-4 33-8s12-4 17-6c6-2 10-3 16.6-3.4s22-1.6 33.4-1.6 34 4 46.5 8 36 8 53.5 7 50-14 67-22" stroke-width="2"/><path d="M1083 100c6 0 10 0 17 0s22-4 33-7 16 1 23.5 3.5 60 6 104 14l6.5 9.5" stroke-width="2"/><path d="M1093.7 170c1 12 2 22 3.8 34.4s2 22 2.5 34.6 1.5 18 1 26.6-5 12-9.2 19.2-6 18-9.8 26.7-6 8-11.2 13.5-14 16-21.1 24.8-18 18-26.7 26.8-6 6-9.6 11.4-6 6-9.6 11.5" stroke-width="2.4"/><path d="M1021 208c26-1 50-1.5 76.5-2s20 0 28.5 0 24-8 34.7-13 18-7 26.8-11 54-6 79.5-8" stroke-width="1.8"/><path d="M1021 309.6c6 3 10 6 17 9.4s22 4 32.8 6c14 2 30 4 44 7.6s34 16 49.7 24.9 34 6 49.5 7.5 36 8 53 13.5" stroke-width="2.2"/><path d="M1091.8 284.8c14 5 28 9 42.2 15.2s24 10 34 17 8 18 8 29-6 8-11.5 11.5" stroke-width="1.4"/><path d="M935.6 323c12 8 24 14 36.4 23s32 26 46 38.5 4 6 8 11.5" stroke-width="2"/><path d="M1003 376l22 21M1003 397l20-20" stroke-width="2"/><path d="M876.5 357c4 2 6 2 9 4s10 8 14 12 8 10 10.5 14 3 5 5 9" stroke-width="2.4"/><path d="M935 326v40l16 10M935 350l-30 14-24 18-12 15M951 376l-6 14-40 7M1004 322v46M1022 340h38" stroke-width="1"/></g>
</g></svg>
<div class="cell g1" style="left:346px;top:-24px;width:29px;height:38px;line-height:38px"></div><div class="cell g2" style="left:375px;top:-24px;width:29px;height:38px;line-height:38px"></div><div class="cell g1" style="left:404px;top:-24px;width:29px;height:38px;line-height:38px"></div><div class="cell g1" style="left:433px;top:-24px;width:29px;height:38px;line-height:38px"></div><div class="cell g2" style="left:462px;top:-24px;width:29px;height:38px;line-height:38px"></div><div class="cell g3" style="left:491px;top:-24px;width:29px;height:38px;line-height:38px"></div><div class="cell g1" style="left:548px;top:-24px;width:29px;height:38px;line-height:38px"></div>
<div class="cell g4" style="left:346px;top:14px;width:29px;height:37px;line-height:37px">2.29</div><div class="cell g3" style="left:375px;top:14px;width:29px;height:37px;line-height:37px">1.99</div><div class="cell g1" style="left:404px;top:14px;width:29px;height:37px;line-height:37px">1.42</div><div class="cell g1" style="left:433px;top:14px;width:29px;height:37px;line-height:37px">1.34</div><div class="cell g2" style="left:462px;top:14px;width:29px;height:37px;line-height:37px">1.65</div><div class="cell g2" style="left:491px;top:14px;width:29px;height:37px;line-height:37px">1.63</div><div class="cell g1" style="left:520px;top:14px;width:28px;height:37px;line-height:37px">1.57</div><div class="cell g2" style="left:548px;top:14px;width:29px;height:37px;line-height:37px">1.64</div><div class="cell g1" style="left:577px;top:14px;width:29px;height:37px;line-height:37px">1.55</div><div class="cell g1" style="left:606px;top:14px;width:29px;height:37px;line-height:37px">1.53</div><div class="cell g1" style="left:635px;top:14px;width:29px;height:37px;line-height:37px">1.32</div>
<div class="cell g3" style="left:288px;top:51px;width:29px;height:38px;line-height:38px">2.01</div><div class="cell g1" style="left:317px;top:51px;width:29px;height:38px;line-height:38px">1.53</div><div class="cell g3" style="left:346px;top:51px;width:29px;height:38px;line-height:38px">1.90</div><div class="cell g3" style="left:375px;top:51px;width:29px;height:38px;line-height:38px">1.97</div><div class="cell g2" style="left:404px;top:51px;width:29px;height:38px;line-height:38px">1.72</div><div class="cell g2" style="left:433px;top:51px;width:29px;height:38px;line-height:38px">1.63</div><div class="cell g1" style="left:462px;top:51px;width:29px;height:38px;line-height:38px">1.53</div><div class="cell g2" style="left:491px;top:51px;width:29px;height:38px;line-height:38px">1.60</div><div class="cell g1" style="left:520px;top:51px;width:28px;height:38px;line-height:38px">1.51</div><div class="cell g3" style="left:548px;top:51px;width:29px;height:38px;line-height:38px">2.00</div><div class="cell g2" style="left:577px;top:51px;width:29px;height:38px;line-height:38px">1.63</div><div class="cell g1" style="left:606px;top:51px;width:29px;height:38px;line-height:38px">1.44</div><div class="cell g2" style="left:635px;top:51px;width:29px;height:38px;line-height:38px">1.89</div><div class="cell g1" style="left:664px;top:51px;width:29px;height:38px;line-height:38px">1.50</div><div class="cell g1" style="left:693px;top:51px;width:29px;height:38px;line-height:38px">1.30</div>
<div class="cell g4" style="left:230px;top:89px;width:29px;height:38px;line-height:38px">2.44</div><div class="cell g1" style="left:259px;top:89px;width:29px;height:38px;line-height:38px">1.31</div><div class="cell g2" style="left:288px;top:89px;width:29px;height:38px;line-height:38px">1.74</div><div class="cell g4" style="left:317px;top:89px;width:29px;height:38px;line-height:38px">3.31</div><div class="cell g1" style="left:346px;top:89px;width:29px;height:38px;line-height:38px">1.59</div><div class="cell g3" style="left:375px;top:89px;width:29px;height:38px;line-height:38px">1.93</div><div class="cell g4" style="left:404px;top:89px;width:29px;height:38px;line-height:38px">3.67</div><div class="cell g4" style="left:433px;top:89px;width:29px;height:38px;line-height:38px">2.20</div><div class="cell g2" style="left:462px;top:89px;width:29px;height:38px;line-height:38px">1.79</div><div class="cell g3" style="left:491px;top:89px;width:29px;height:38px;line-height:38px">2.02</div><div class="cell g3" style="left:520px;top:89px;width:28px;height:38px;line-height:38px">1.91</div><div class="cell g2" style="left:548px;top:89px;width:29px;height:38px;line-height:38px">1.68</div><div class="cell g3" style="left:577px;top:89px;width:29px;height:38px;line-height:38px">2.00</div><div class="cell g1" style="left:606px;top:89px;width:29px;height:38px;line-height:38px">1.31</div><div class="cell g1" style="left:635px;top:89px;width:29px;height:38px;line-height:38px">1.52</div><div class="cell g2" style="left:664px;top:89px;width:29px;height:38px;line-height:38px">1.78</div><div class="cell g2" style="left:693px;top:89px;width:29px;height:38px;line-height:38px">1.61</div><div class="cell g0" style="left:722px;top:89px;width:29px;height:38px;line-height:38px">1.00</div>
<div class="cell g0" style="left:144px;top:127px;width:29px;height:37px;line-height:37px">1.07</div><div class="cell g1" style="left:173px;top:127px;width:29px;height:37px;line-height:37px">1.53</div><div class="cell g4" style="left:230px;top:127px;width:29px;height:37px;line-height:37px">2.24</div><div class="cell g2" style="left:259px;top:127px;width:29px;height:37px;line-height:37px">1.82</div><div class="cell g3" style="left:288px;top:127px;width:29px;height:37px;line-height:37px">1.90</div><div class="cell g1" style="left:317px;top:127px;width:29px;height:37px;line-height:37px">1.52</div><div class="cell g2" style="left:346px;top:127px;width:29px;height:37px;line-height:37px">1.86</div><div class="cell g2" style="left:375px;top:127px;width:29px;height:37px;line-height:37px">1.72</div><div class="cell g3" style="left:404px;top:127px;width:29px;height:37px;line-height:37px">2.00</div><div class="cell g3" style="left:433px;top:127px;width:29px;height:37px;line-height:37px">2.06</div><div class="cell g2" style="left:462px;top:127px;width:29px;height:37px;line-height:37px">1.84</div><div class="cell g1" style="left:491px;top:127px;width:29px;height:37px;line-height:37px">1.58</div><div class="cell g2" style="left:520px;top:127px;width:28px;height:37px;line-height:37px">1.71</div><div class="cell g3" style="left:548px;top:127px;width:29px;height:37px;line-height:37px">2.09</div><div class="cell g2" style="left:577px;top:127px;width:29px;height:37px;line-height:37px">1.62</div><div class="cell g2" style="left:606px;top:127px;width:29px;height:37px;line-height:37px">1.77</div><div class="cell g2" style="left:635px;top:127px;width:29px;height:37px;line-height:37px">1.85</div><div class="cell g2" style="left:693px;top:127px;width:29px;height:37px;line-height:37px">1.89</div>
<div class="cell g2" style="left:144px;top:164px;width:29px;height:38px;line-height:38px">1.67</div><div class="cell g2" style="left:173px;top:164px;width:29px;height:38px;line-height:38px">1.65</div><div class="cell g3" style="left:202px;top:164px;width:28px;height:38px;line-height:38px">2.13</div><div class="cell g2" style="left:230px;top:164px;width:29px;height:38px;line-height:38px">1.65</div><div class="cell g1" style="left:259px;top:164px;width:29px;height:38px;line-height:38px">1.44</div><div class="cell g2" style="left:288px;top:164px;width:29px;height:38px;line-height:38px">1.75</div><div class="cell g2" style="left:317px;top:164px;width:29px;height:38px;line-height:38px">1.80</div><div class="cell g1" style="left:346px;top:164px;width:29px;height:38px;line-height:38px">1.55</div><div class="cell g2" style="left:375px;top:164px;width:29px;height:38px;line-height:38px">1.84</div><div class="cell g3" style="left:404px;top:164px;width:29px;height:38px;line-height:38px">2.05</div><div class="cell g3" style="left:433px;top:164px;width:29px;height:38px;line-height:38px">2.07</div><div class="cell g3" style="left:462px;top:164px;width:29px;height:38px;line-height:38px">1.92</div><div class="cell g4" style="left:491px;top:164px;width:29px;height:38px;line-height:38px">2.75</div><div class="cell g3" style="left:520px;top:164px;width:28px;height:38px;line-height:38px">2.12</div><div class="cell g4" style="left:548px;top:164px;width:29px;height:38px;line-height:38px">2.38</div><div class="cell g2" style="left:577px;top:164px;width:29px;height:38px;line-height:38px">1.69</div><div class="cell g2" style="left:606px;top:164px;width:29px;height:38px;line-height:38px">1.72</div><div class="cell g2" style="left:635px;top:164px;width:29px;height:38px;line-height:38px">1.72</div><div class="cell g2" style="left:664px;top:164px;width:29px;height:38px;line-height:38px">1.86</div><div class="cell g3" style="left:693px;top:164px;width:29px;height:38px;line-height:38px">2.16</div>
<div class="cell g1" style="left:202px;top:202px;width:28px;height:37px;line-height:37px">1.58</div><div class="cell g1" style="left:230px;top:202px;width:29px;height:37px;line-height:37px">1.57</div><div class="cell g2" style="left:259px;top:202px;width:29px;height:37px;line-height:37px">1.69</div><div class="cell g4" style="left:288px;top:202px;width:29px;height:37px;line-height:37px">2.22</div><div class="cell g3" style="left:317px;top:202px;width:29px;height:37px;line-height:37px">1.95</div><div class="cell g2" style="left:346px;top:202px;width:29px;height:37px;line-height:37px">1.78</div><div class="cell g4" style="left:375px;top:202px;width:29px;height:37px;line-height:37px">2.47</div><div class="cell g3" style="left:404px;top:202px;width:29px;height:37px;line-height:37px">1.98</div><div class="cell g3" style="left:433px;top:202px;width:29px;height:37px;line-height:37px">2.14</div><div class="cell g2" style="left:462px;top:202px;width:29px;height:37px;line-height:37px">1.62</div><div class="cell g3" style="left:491px;top:202px;width:29px;height:37px;line-height:37px">1.97</div><div class="cell g4" style="left:520px;top:202px;width:28px;height:37px;line-height:37px">2.53</div><div class="cell g4" style="left:548px;top:202px;width:29px;height:37px;line-height:37px">3.15</div><div class="cell g2" style="left:577px;top:202px;width:29px;height:37px;line-height:37px">1.89</div><div class="cell g3" style="left:606px;top:202px;width:29px;height:37px;line-height:37px">1.90</div><div class="cell g2" style="left:635px;top:202px;width:29px;height:37px;line-height:37px">1.66</div><div class="cell g2" style="left:664px;top:202px;width:29px;height:37px;line-height:37px">1.79</div><div class="cell g3" style="left:693px;top:202px;width:29px;height:37px;line-height:37px">2.13</div>
<div class="cell g1" style="left:202px;top:239px;width:28px;height:38px;line-height:38px">1.52</div><div class="cell g2" style="left:230px;top:239px;width:29px;height:38px;line-height:38px">1.65</div><div class="cell g3" style="left:259px;top:239px;width:29px;height:38px;line-height:38px">2.00</div><div class="cell g1" style="left:288px;top:239px;width:29px;height:38px;line-height:38px">1.59</div><div class="cell g2" style="left:317px;top:239px;width:29px;height:38px;line-height:38px">1.76</div><div class="cell g2" style="left:346px;top:239px;width:29px;height:38px;line-height:38px">1.81</div><div class="cell g2" style="left:375px;top:239px;width:29px;height:38px;line-height:38px">1.67</div><div class="cell g3" style="left:404px;top:239px;width:29px;height:38px;line-height:38px">2.18</div><div class="cell g3" style="left:433px;top:239px;width:29px;height:38px;line-height:38px">2.06</div><div class="cell g2" style="left:462px;top:239px;width:29px;height:38px;line-height:38px">1.65</div><div class="cell g2" style="left:491px;top:239px;width:29px;height:38px;line-height:38px">1.72</div><div class="cell g2" style="left:520px;top:239px;width:28px;height:38px;line-height:38px">1.68</div><div class="cell g3" style="left:548px;top:239px;width:29px;height:38px;line-height:38px">1.97</div><div class="cell g1" style="left:577px;top:239px;width:29px;height:38px;line-height:38px">1.47</div><div class="cell g2" style="left:606px;top:239px;width:29px;height:38px;line-height:38px">1.66</div><div class="cell g2" style="left:635px;top:239px;width:29px;height:38px;line-height:38px">1.75</div><div class="cell g1" style="left:664px;top:239px;width:29px;height:38px;line-height:38px">1.58</div><div class="cell g1" style="left:693px;top:239px;width:29px;height:38px;line-height:38px">1.55</div>
<div class="cell g2" style="left:259px;top:277px;width:29px;height:38px;line-height:38px">1.71</div><div class="cell g2" style="left:288px;top:277px;width:29px;height:38px;line-height:38px">1.76</div><div class="cell g3" style="left:317px;top:277px;width:29px;height:38px;line-height:38px">2.05</div><div class="cell g1" style="left:346px;top:277px;width:29px;height:38px;line-height:38px">1.51</div><div class="cell g3" style="left:375px;top:277px;width:29px;height:38px;line-height:38px">1.98</div><div class="cell g2" style="left:404px;top:277px;width:29px;height:38px;line-height:38px">1.64</div><div class="cell g2" style="left:433px;top:277px;width:29px;height:38px;line-height:38px">1.61</div><div class="cell g3" style="left:462px;top:277px;width:29px;height:38px;line-height:38px">1.90</div><div class="cell g2" style="left:491px;top:277px;width:29px;height:38px;line-height:38px">1.63</div><div class="cell g2" style="left:520px;top:277px;width:28px;height:38px;line-height:38px">1.64</div><div class="cell g1" style="left:548px;top:277px;width:29px;height:38px;line-height:38px">1.54</div><div class="cell g2" style="left:577px;top:277px;width:29px;height:38px;line-height:38px">1.67</div><div class="cell g2" style="left:606px;top:277px;width:29px;height:38px;line-height:38px">1.76</div><div class="cell g1" style="left:635px;top:277px;width:29px;height:38px;line-height:38px">1.52</div><div class="cell g1" style="left:664px;top:277px;width:29px;height:38px;line-height:38px">1.46</div><div class="cell g1" style="left:693px;top:277px;width:29px;height:38px;line-height:38px">1.30</div>
<div class="cell g2" style="left:288px;top:315px;width:29px;height:37px;line-height:37px">1.61</div><div class="cell g3" style="left:317px;top:315px;width:29px;height:37px;line-height:37px">1.93</div><div class="cell g3" style="left:346px;top:315px;width:29px;height:37px;line-height:37px">1.91</div><div class="cell g2" style="left:375px;top:315px;width:29px;height:37px;line-height:37px">1.66</div><div class="cell g3" style="left:404px;top:315px;width:29px;height:37px;line-height:37px">1.93</div><div class="cell g2" style="left:433px;top:315px;width:29px;height:37px;line-height:37px">1.74</div><div class="cell g2" style="left:462px;top:315px;width:29px;height:37px;line-height:37px">1.66</div><div class="cell g1" style="left:491px;top:315px;width:29px;height:37px;line-height:37px">1.58</div><div class="cell g2" style="left:520px;top:315px;width:28px;height:37px;line-height:37px">1.89</div><div class="cell g2" style="left:548px;top:315px;width:29px;height:37px;line-height:37px">1.60</div><div class="cell g2" style="left:577px;top:315px;width:29px;height:37px;line-height:37px">1.72</div><div class="cell g1" style="left:606px;top:315px;width:29px;height:37px;line-height:37px">1.37</div><div class="cell g2" style="left:664px;top:315px;width:29px;height:37px;line-height:37px">1.66</div>
<div class="cell g1" style="left:317px;top:352px;width:29px;height:38px;line-height:38px">1.38</div><div class="cell g2" style="left:346px;top:352px;width:29px;height:38px;line-height:38px">1.67</div><div class="cell g1" style="left:375px;top:352px;width:29px;height:38px;line-height:38px">1.54</div><div class="cell g2" style="left:404px;top:352px;width:29px;height:38px;line-height:38px">1.70</div><div class="cell g1" style="left:433px;top:352px;width:29px;height:38px;line-height:38px">1.49</div><div class="cell g1" style="left:462px;top:352px;width:29px;height:38px;line-height:38px">1.47</div><div class="cell g1" style="left:491px;top:352px;width:29px;height:38px;line-height:38px">1.54</div><div class="cell g0" style="left:548px;top:352px;width:29px;height:38px;line-height:38px">1.00</div>
<div class="t" style="left:11px;top:329.3px;font-size:11.7px;font-weight:bold;color:#f2f2f2;letter-spacing:.25px">2020年08月27日&nbsp;&nbsp;周四</div>
<div class="t" style="left:11.5px;top:347.5px;font-size:27px;font-weight:bold;color:#fff">17:55</div>
<div class="t" style="left:83.5px;top:357.3px;font-size:14.5px;font-weight:bold;color:#8a8a8a">~ 18:00</div>
<div class="t" style="left:731px;top:226.0px;font-size:9px;color:#59636d">通州区</div>
<svg class="a" style="left:0;top:0" width="967" height="392" viewBox="300 5 967 392"><g fill="none" stroke="#fff" stroke-opacity=".09" stroke-linejoin="round"><rect x="733" y="205" width="57" height="46" rx="4" stroke-width="1.6"/><rect x="703" y="181" width="118" height="93" rx="10" stroke-width="1.8"/><rect x="650" y="152" width="222" height="150" rx="16" stroke-width="2"/><path d="M596 130c10-24 30-34 60-36h230c34 2 50 20 52 50v150c-4 34-24 48-56 50H660c-36-4-56-24-62-56z" stroke-width="2"/><path d="M560 228h173M790 228h240M761 95v110M761 251v94M733 251c-30 30-70 60-120 84M790 205c40-30 70-60 100-100M821 274c40 20 80 34 120 52M650 170c-30-10-60-14-90-30M703 181c-20-30-40-56-50-86" stroke-width="1.5"/><path d="M560 241c20 12 30 16 50 36s30 30 50 46M872 200c40-6 80-10 150-12" stroke-width="1.5"/></g></svg>
<svg class="a" style="left:457px;top:220px" width="17" height="10" viewBox="0 0 17 10"><path d="M0 10V7h2.5l1.5-4.5L6 1h5l2 1.5L14.5 7H17v3z" fill="#e8702a"/><path d="M4 4h9M3 7h11" stroke="#f2b02c" stroke-width="1" stroke-dasharray="1 1"/></svg>
<div class="t" style="left:476px;top:222.5px;font-size:9px;color:rgba(235,205,70,.6)">天安门</div>
<div class="t" style="left:473.5px;top:200.5px;font-size:9px;color:rgba(255,255,255,.16)">东城区</div>
<div class="t" style="left:420px;top:224.3px;font-size:9px;color:rgba(255,255,255,.16)">西城区</div>
<div class="t" style="left:346px;top:156.5px;font-size:9px;color:rgba(255,255,255,.16)">海淀区</div>
<div class="t" style="left:261px;top:231.5px;font-size:9px;color:rgba(255,255,255,.16)">石景山区</div>
<div class="t" style="left:333px;top:299.5px;font-size:9px;color:rgba(255,255,255,.16)">丰台区</div>
<div class="t" style="left:132px;top:179.5px;font-size:9px;color:rgba(255,255,255,.16)">门头沟区</div>
<div class="t" style="left:273px;top:219.5px;font-size:9px;color:rgba(255,255,255,.16)"></div>
<div class="a" style="left:856.5px;top:15px;width:103.8px;height:155.5px;background:rgba(34,47,60,.78);border:1px dashed rgba(90,110,130,.4)"></div>
<div class="t" style="left:862px;top:25px;font-size:10px;color:#9299a0">延时指数(P):</div>
<div class="a" style="left:865.3px;top:46.9px;width:12.6px;height:12.6px;background:#2f7a20"></div>
<div class="t" style="left:884px;top:48.2px;font-size:9.6px;font-weight:bold;color:#f4f4f4;letter-spacing:-.35px">0 &lt; P &lt; 1.3</div>
<div class="a" style="left:865.3px;top:71.9px;width:12.6px;height:12.6px;background:#6cc91c"></div>
<div class="t" style="left:884px;top:73.2px;font-size:9.6px;font-weight:bold;color:#f4f4f4;letter-spacing:-.35px">1.3 &lt; P &le; 1.6</div>
<div class="a" style="left:865.3px;top:96.9px;width:12.6px;height:12.6px;background:#d6bf42"></div>
<div class="t" style="left:884px;top:98.2px;font-size:9.6px;font-weight:bold;color:#f4f4f4;letter-spacing:-.35px">1.6 &lt; P &le; 1.9</div>
<div class="a" style="left:865.3px;top:121.9px;width:12.6px;height:12.6px;background:#de7a2a"></div>
<div class="t" style="left:884px;top:123.2px;font-size:9.6px;font-weight:bold;color:#f4f4f4;letter-spacing:-.35px">1.9 &lt; P &le; 2.2</div>
<div class="a" style="left:865.3px;top:146.9px;width:12.6px;height:12.6px;background:#df1139"></div>
<div class="t" style="left:884px;top:148.2px;font-size:9.6px;font-weight:bold;color:#f4f4f4;letter-spacing:-.35px">P &gt; 2.2</div>
<svg class="a" style="left:930.3px;top:255.3px" width="23" height="23" viewBox="-11.5 -11.5 23 23"><circle r="10.9" fill="#fff"/><path d="M-7.3 0h14.6" stroke="#1c1c1c" stroke-width="2.2"/></svg>
<svg class="a" style="left:930.3px;top:288.3px" width="23" height="23" viewBox="-11.5 -11.5 23 23"><circle r="10.9" fill="#fff"/><path d="M-7.3 0h14.6M0 -7.3v14.6" stroke="#2a2a2a" stroke-width="1.3"/></svg>
<svg class="a" style="left:930.3px;top:321.5px" width="23" height="23" viewBox="-11.5 -11.5 23 23"><circle r="10.9" fill="#fff"/><path d="M-7 -3.2v-3.8h3.8M-7 -7l4.8 4.8M7 -3.2v-3.8h-3.8M7 -7l-4.8 4.8M-7 3.2v3.8h3.8M-7 7l4.8 -4.8M7 3.2v3.8h-3.8M7 7l-4.8 -4.8" stroke="#222" stroke-width="1.1" fill="none"/></svg>
<svg class="a" style="left:930.3px;top:354.6px" width="23" height="23" viewBox="-11.5 -11.5 23 23"><circle r="10.9" fill="#fff"/><path d="M0 -8.5L3.8 0L0 8.5L-3.8 0z" fill="#2b2b2b"/><circle r="1.3" fill="#c8c8c8"/></svg>
</div>
<div id="bot" class="a">
<div class="a" style="left:0;top:0;width:967px;height:19px;background:#000"></div>
<div class="a" style="left:-10px;top:0;width:366.3px;height:19px;background:#fff;border-radius:0 9.5px 9.5px 0"></div>
<div class="tog tb" style="left:7.4px;top:5.0px;background:#4a4a4a"></div>
<div class="t" style="left:28.0px;top:5.5px;font-size:9px;color:#333;">城市对比</div>
<div class="t" style="left:81.0px;top:5.5px;font-size:9px;color:#8a8a8a;">城市1:</div>
<div class="t" style="left:115.0px;top:5.5px;font-size:9px;color:#333;">成都市</div>
<div class="t" style="left:159.0px;top:5.5px;font-size:9px;color:#8a8a8a;">城市2:</div>
<div class="t" style="left:193.0px;top:5.5px;font-size:9px;color:#333;">大连市</div>
<div class="tog tb" style="left:243.0px;top:5.0px;background:#4a4a4a"></div>
<div class="t" style="left:263.5px;top:5.5px;font-size:9px;color:#333;">显示各行政区曲线</div>
<div class="t" style="left:553.0px;top:5.5px;font-size:9px;color:#fff;">交通拥堵指数数据分析面板</div>
<div class="t" style="left:830.5px;top:5.5px;font-size:9px;color:#fff;">更新时间:&nbsp; 2020-08-27 18:01</div>
<div class="a" style="left:952px;top:0;width:15px;height:19px;background:#c9cdd2"></div>
<svg class="a" style="left:955px;top:6.5px" width="9" height="7" viewBox="0 0 9 7"><path d="M1 1.5l3.5 3.5 3.5-3.5" stroke="#222" stroke-width="1.4" fill="none"/></svg>
<div class="t c" style="left:242.5px;top:31.1px;font-size:10.4px;color:#c6f312;font-weight:bold">当前小时延时指数变化（5分钟间隔）</div>
<div class="t" style="left:36.5px;top:46.5px;font-size:9px;color:#fff;">对比曲线</div>
<div class="tog" style="left:86.0px;top:46.0px;background:#444"></div>
<div class="t" style="left:107.0px;top:46.5px;font-size:9px;color:#8a8a8a;">昨日</div>
<div class="tog" style="left:138.0px;top:46.0px;background:#444"></div>
<div class="t" style="left:158.0px;top:46.5px;font-size:9px;color:#8a8a8a;">上周同日</div>
<div class="t c" style="left:728.5px;top:31.2px;font-size:10.4px;color:#e0133c;font-weight:bold">当日逐小时延时指数变化</div>
<div class="t" style="left:522.0px;top:46.5px;font-size:9px;color:#fff;">对比曲线</div>
<div class="tog" style="left:572.0px;top:46.0px;background:#444"></div>
<div class="t" style="left:592.0px;top:46.5px;font-size:9px;color:#8a8a8a;">昨日</div>
<div class="tog" style="left:623.0px;top:46.0px;background:#444"></div>
<div class="t" style="left:644.0px;top:46.5px;font-size:9px;color:#8a8a8a;">上周同日</div>
<div class="tog" style="left:693.0px;top:46.0px;background:#444"></div>
<div class="t" style="left:713.0px;top:46.5px;font-size:9px;color:#8a8a8a;">近一月月均</div>
<svg class="a" style="left:0;top:0" width="967" height="200" viewBox="300 397 967 200" font-family="Liberation Sans, sans-serif" font-size="9.2" fill="#b4b4b4">
<defs><linearGradient id="ar" x1="0" y1="0" x2="0" y2="1"><stop offset="0" stop-color="#c41238" stop-opacity=".62"/><stop offset=".5" stop-color="#960e2c" stop-opacity=".3"/><stop offset=".85" stop-color="#3a1016" stop-opacity=".04"/><stop offset="1" stop-color="#3a1016" stop-opacity="0"/></linearGradient></defs>
<g stroke="#2f2f2f" stroke-width="1" shape-rendering="crispEdges"><path d="M374.5 469.0V576.5" stroke-dasharray="1 1" stroke="#3a3a3a"/><path d="M412.0 469.0V576.5" stroke-dasharray="1 1" stroke="#3a3a3a"/><path d="M449.5 469.0V576.5" stroke-dasharray="1 1" stroke="#3a3a3a"/><path d="M487.0 469.0V576.5" stroke-dasharray="1 1" stroke="#3a3a3a"/><path d="M524.5 469.0V576.5" stroke-dasharray="1 1" stroke="#3a3a3a"/><path d="M562.1 469.0V576.5" stroke-dasharray="1 1" stroke="#3a3a3a"/><path d="M599.6 469.0V576.5" stroke-dasharray="1 1" stroke="#3a3a3a"/><path d="M637.1 469.0V576.5" stroke-dasharray="1 1" stroke="#3a3a3a"/><path d="M674.6 469.0V576.5" stroke-dasharray="1 1" stroke="#3a3a3a"/><path d="M712.1 469.0V576.5" stroke-dasharray="1 1" stroke="#3a3a3a"/><path d="M749.6 469.0V576.5" stroke-dasharray="1 1" stroke="#3a3a3a"/><path d="M337.0 469.0H749.6"/><path d="M337.0 484.4H749.6"/><path d="M337.0 499.7H749.6"/><path d="M337.0 515.1H749.6"/><path d="M337.0 530.4H749.6"/><path d="M337.0 545.8H749.6"/><path d="M337.0 561.1H749.6"/></g>
<g stroke="#9a9a9a" stroke-width="1" shape-rendering="crispEdges"><path d="M337.0 469.0V579.5M334.0 576.5H749.6"/><path d="M334.0 469.0H337.0"/><path d="M334.0 484.4H337.0"/><path d="M334.0 499.7H337.0"/><path d="M334.0 515.1H337.0"/><path d="M334.0 530.4H337.0"/><path d="M334.0 545.8H337.0"/><path d="M334.0 561.1H337.0"/><path d="M334.0 576.5H337.0"/><path d="M337.0 576.5V579.5"/><path d="M374.5 576.5V579.5"/><path d="M412.0 576.5V579.5"/><path d="M449.5 576.5V579.5"/><path d="M487.0 576.5V579.5"/><path d="M524.5 576.5V579.5"/><path d="M562.1 576.5V579.5"/><path d="M599.6 576.5V579.5"/><path d="M637.1 576.5V579.5"/><path d="M674.6 576.5V579.5"/><path d="M712.1 576.5V579.5"/><path d="M749.6 576.5V579.5"/></g>
<path d="M599 469.0V576.5" stroke="#d8d8d8" stroke-width="1" shape-rendering="crispEdges"/>
<text x="332.0" y="472.3" text-anchor="end">2.1</text><text x="332.0" y="487.7" text-anchor="end">1.8</text><text x="332.0" y="503.0" text-anchor="end">1.5</text><text x="332.0" y="518.4" text-anchor="end">1.2</text><text x="332.0" y="533.7" text-anchor="end">0.9</text><text x="332.0" y="549.1" text-anchor="end">0.6</text><text x="332.0" y="564.4" text-anchor="end">0.3</text><text x="332.0" y="579.8" text-anchor="end">0</text><text x="337.0" y="588.8" text-anchor="middle">18:00</text><text x="374.5" y="588.8" text-anchor="middle">18:05</text><text x="412.0" y="588.8" text-anchor="middle">18:10</text><text x="449.5" y="588.8" text-anchor="middle">18:15</text><text x="487.0" y="588.8" text-anchor="middle">18:20</text><text x="524.5" y="588.8" text-anchor="middle">18:25</text><text x="562.1" y="588.8" text-anchor="middle">18:30</text><text x="599.6" y="588.8" text-anchor="middle">18:35</text><text x="637.1" y="588.8" text-anchor="middle">18:40</text><text x="674.6" y="588.8" text-anchor="middle">18:45</text><text x="712.1" y="588.8" text-anchor="middle">18:50</text><text x="749.6" y="588.8" text-anchor="middle">18:55</text>
<g stroke="#2f2f2f" stroke-width="1" shape-rendering="crispEdges"><path d="M846.6 469.0V576.4" stroke-dasharray="1 1" stroke="#3a3a3a"/><path d="M870.9 469.0V576.4" stroke-dasharray="1 1" stroke="#3a3a3a"/><path d="M895.2 469.0V576.4" stroke-dasharray="1 1" stroke="#3a3a3a"/><path d="M919.5 469.0V576.4" stroke-dasharray="1 1" stroke="#3a3a3a"/><path d="M943.8 469.0V576.4" stroke-dasharray="1 1" stroke="#3a3a3a"/><path d="M968.1 469.0V576.4" stroke-dasharray="1 1" stroke="#3a3a3a"/><path d="M992.4 469.0V576.4" stroke-dasharray="1 1" stroke="#3a3a3a"/><path d="M1016.7 469.0V576.4" stroke-dasharray="1 1" stroke="#3a3a3a"/><path d="M1041.0 469.0V576.4" stroke-dasharray="1 1" stroke="#3a3a3a"/><path d="M1065.3 469.0V576.4" stroke-dasharray="1 1" stroke="#3a3a3a"/><path d="M1089.6 469.0V576.4" stroke-dasharray="1 1" stroke="#3a3a3a"/><path d="M1113.9 469.0V576.4" stroke-dasharray="1 1" stroke="#3a3a3a"/><path d="M1138.2 469.0V576.4" stroke-dasharray="1 1" stroke="#3a3a3a"/><path d="M1162.5 469.0V576.4" stroke-dasharray="1 1" stroke="#3a3a3a"/><path d="M1186.8 469.0V576.4" stroke-dasharray="1 1" stroke="#3a3a3a"/><path d="M1211.1 469.0V576.4" stroke-dasharray="1 1" stroke="#3a3a3a"/><path d="M1235.4 469.0V576.4" stroke-dasharray="1 1" stroke="#3a3a3a"/><path d="M822.3 469.0H1235.4"/><path d="M822.3 486.9H1235.4"/><path d="M822.3 504.8H1235.4"/><path d="M822.3 522.7H1235.4"/><path d="M822.3 540.6H1235.4"/><path d="M822.3 558.5H1235.4"/></g>
<path d="M822.3 488.7C826.3 487.4 838.5 483.5 846.6 480.9C854.7 478.3 862.8 473.8 870.9 473.2C879.0 472.6 887.1 475.9 895.2 477.4C903.3 478.8 911.4 481.0 919.5 482.1C927.6 483.2 935.7 483.4 943.8 483.9C951.9 484.4 960.0 484.7 968.1 485.1C976.2 485.5 984.3 486.4 992.4 486.3C1000.5 486.2 1008.6 485.0 1016.7 484.5C1024.8 484.0 1032.9 483.7 1041.0 483.3C1049.1 482.9 1061.3 482.3 1065.3 482.1L1065.3 576.4L822.3 576.4z" fill="url(#ar)" stroke="none"/>
<path d="M822.3 488.7C826.3 487.4 838.5 483.5 846.6 480.9C854.7 478.3 862.8 473.8 870.9 473.2C879.0 472.6 887.1 475.9 895.2 477.4C903.3 478.8 911.4 481.0 919.5 482.1C927.6 483.2 935.7 483.4 943.8 483.9C951.9 484.4 960.0 484.7 968.1 485.1C976.2 485.5 984.3 486.4 992.4 486.3C1000.5 486.2 1008.6 485.0 1016.7 484.5C1024.8 484.0 1032.9 483.7 1041.0 483.3C1049.1 482.9 1061.3 482.3 1065.3 482.1" fill="none" stroke="#e3123b" stroke-width="1.8"/>
<g stroke="#9a9a9a" stroke-width="1" shape-rendering="crispEdges"><path d="M822.3 469.0V579.4M819.3 576.4H1235.4"/><path d="M819.3 469.0H822.3"/><path d="M819.3 486.9H822.3"/><path d="M819.3 504.8H822.3"/><path d="M819.3 522.7H822.3"/><path d="M819.3 540.6H822.3"/><path d="M819.3 558.5H822.3"/><path d="M819.3 576.4H822.3"/><path d="M822.3 576.4V579.4"/><path d="M846.6 576.4V579.4"/><path d="M870.9 576.4V579.4"/><path d="M895.2 576.4V579.4"/><path d="M919.5 576.4V579.4"/><path d="M943.8 576.4V579.4"/><path d="M968.1 576.4V579.4"/><path d="M992.4 576.4V579.4"/><path d="M1016.7 576.4V579.4"/><path d="M1041.0 576.4V579.4"/><path d="M1065.3 576.4V579.4"/><path d="M1089.6 576.4V579.4"/><path d="M1113.9 576.4V579.4"/><path d="M1138.2 576.4V579.4"/><path d="M1162.5 576.4V579.4"/><path d="M1186.8 576.4V579.4"/><path d="M1211.1 576.4V579.4"/><path d="M1235.4 576.4V579.4"/></g>
<text x="817.3" y="472.3" text-anchor="end">1.8</text><text x="817.3" y="490.2" text-anchor="end">1.5</text><text x="817.3" y="508.1" text-anchor="end">1.2</text><text x="817.3" y="526.0" text-anchor="end">0.9</text><text x="817.3" y="543.9" text-anchor="end">0.6</text><text x="817.3" y="561.8" text-anchor="end">0.3</text><text x="817.3" y="579.7" text-anchor="end">0</text><text x="822.3" y="588.8" text-anchor="middle">06</text><text x="846.6" y="588.8" text-anchor="middle">07</text><text x="870.9" y="588.8" text-anchor="middle">08</text><text x="895.2" y="588.8" text-anchor="middle">09</text><text x="919.5" y="588.8" text-anchor="middle">10</text><text x="943.8" y="588.8" text-anchor="middle">11</text><text x="968.1" y="588.8" text-anchor="middle">12</text><text x="992.4" y="588.8" text-anchor="middle">13</text><text x="1016.7" y="588.8" text-anchor="middle">14</text><text x="1041.0" y="588.8" text-anchor="middle">15</text><text x="1065.3" y="588.8" text-anchor="middle">16</text><text x="1089.6" y="588.8" text-anchor="middle">17</text><text x="1113.9" y="588.8" text-anchor="middle">18</text><text x="1138.2" y="588.8" text-anchor="middle">19</text><text x="1162.5" y="588.8" text-anchor="middle">20</text><text x="1186.8" y="588.8" text-anchor="middle">21</text><text x="1211.1" y="588.8" text-anchor="middle">22</text><text x="1235.4" y="588.8" text-anchor="middle">23</text>
</svg>
<svg class="a" style="left:795px;top:163px" width="165" height="32" viewBox="1095 560 165 32" font-family="Liberation Sans, Noto Sans CJK SC, sans-serif" fill="#fff">
<text x="1099.8" y="575.4" font-size="11" font-weight="bold" textLength="63" lengthAdjust="spacingAndGlyphs">NAVINFO</text>
<path d="M1166.2 567.2l8.6 8.6-8.8 9.6" stroke="#fff" stroke-width="3" fill="none"/>
<text x="1099.8" y="585.6" font-size="7.6" font-weight="bold" textLength="63" lengthAdjust="spacing">四维图新</text>
<path d="M1185.7 571v10" stroke="#b0b0b0" stroke-width="1"/>
<text x="1196.9" y="578" font-size="15.5" textLength="56" lengthAdjust="spacingAndGlyphs">Cennavi</text>
<text x="1197.6" y="585.8" font-size="7" textLength="54.5" lengthAdjust="spacing">世纪高通</text>
</svg>
</div>
<div class="a" style="left:0;top:598px;width:1267px;height:3px;background:#1e3040"></div>
<div class="a" style="left:490.8px;top:598px;width:176.4px;height:3px;background:#52656f"></div>
</body>
</html>
